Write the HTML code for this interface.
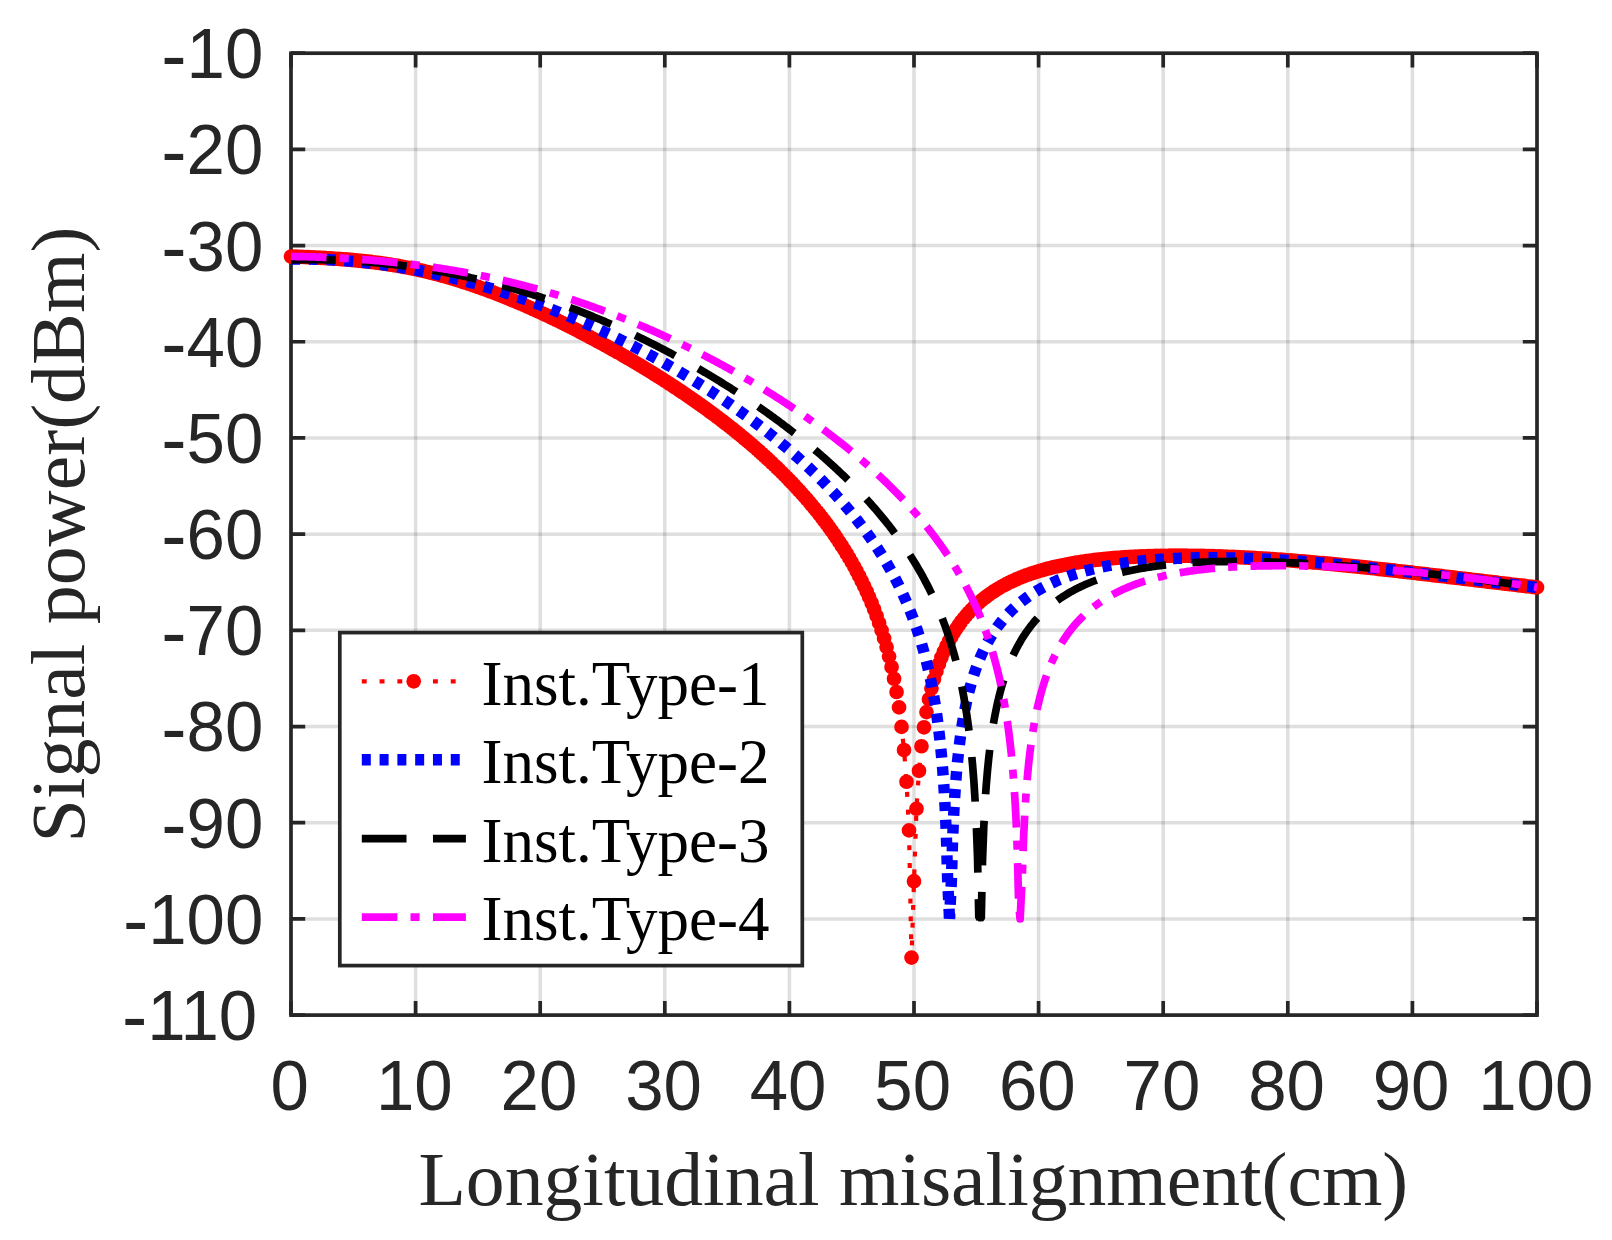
<!DOCTYPE html>
<html lang="en"><head><meta charset="utf-8"><title>Signal power vs longitudinal misalignment</title>
<style>html,body{margin:0;padding:0;background:#fff}svg{display:block}</style></head>
<body>
<svg width="1612" height="1240" viewBox="0 0 1612 1240">
<rect width="1612" height="1240" fill="#fff"/>
<path d="M415.60,53.20V1015.10M540.20,53.20V1015.10M664.80,53.20V1015.10M789.40,53.20V1015.10M914.00,53.20V1015.10M1038.60,53.20V1015.10M1163.20,53.20V1015.10M1287.80,53.20V1015.10M1412.40,53.20V1015.10" stroke="#262626" stroke-opacity="0.15" stroke-width="3.5" fill="none"/>
<path d="M291.00,149.39H1537.00M291.00,245.58H1537.00M291.00,341.77H1537.00M291.00,437.96H1537.00M291.00,534.15H1537.00M291.00,630.34H1537.00M291.00,726.53H1537.00M291.00,822.72H1537.00M291.00,918.91H1537.00" stroke="#262626" stroke-opacity="0.15" stroke-width="3.5" fill="none"/>
<path d="M291.00,1015.10v-14.2M291.00,53.20v14.2M415.60,1015.10v-14.2M415.60,53.20v14.2M540.20,1015.10v-14.2M540.20,53.20v14.2M664.80,1015.10v-14.2M664.80,53.20v14.2M789.40,1015.10v-14.2M789.40,53.20v14.2M914.00,1015.10v-14.2M914.00,53.20v14.2M1038.60,1015.10v-14.2M1038.60,53.20v14.2M1163.20,1015.10v-14.2M1163.20,53.20v14.2M1287.80,1015.10v-14.2M1287.80,53.20v14.2M1412.40,1015.10v-14.2M1412.40,53.20v14.2M1537.00,1015.10v-14.2M1537.00,53.20v14.2M291.00,53.20h14.2M1537.00,53.20h-14.2M291.00,149.39h14.2M1537.00,149.39h-14.2M291.00,245.58h14.2M1537.00,245.58h-14.2M291.00,341.77h14.2M1537.00,341.77h-14.2M291.00,437.96h14.2M1537.00,437.96h-14.2M291.00,534.15h14.2M1537.00,534.15h-14.2M291.00,630.34h14.2M1537.00,630.34h-14.2M291.00,726.53h14.2M1537.00,726.53h-14.2M291.00,822.72h14.2M1537.00,822.72h-14.2M291.00,918.91h14.2M1537.00,918.91h-14.2M291.00,1015.10h14.2M1537.00,1015.10h-14.2" stroke="#262626" stroke-width="3.7" fill="none"/>
<rect x="291.0" y="53.2" width="1246.0" height="961.9" fill="none" stroke="#262626" stroke-width="3.7"/>
<path d="M291.00,256.54 L293.49,256.62 L295.98,256.71 L298.48,256.80 L300.97,256.90 L303.46,257.00 L305.95,257.10 L308.44,257.21 L310.94,257.32 L313.43,257.44 L315.92,257.56 L318.41,257.68 L320.90,257.81 L323.40,257.95 L325.89,258.09 L328.38,258.24 L330.87,258.40 L333.36,258.56 L335.86,258.73 L338.35,258.90 L340.84,259.08 L343.33,259.28 L345.82,259.47 L348.32,259.68 L350.81,259.89 L353.30,260.12 L355.79,260.35 L358.28,260.59 L360.78,260.84 L363.27,261.10 L365.76,261.37 L368.25,261.65 L370.74,261.94 L373.24,262.25 L375.73,262.56 L378.22,262.88 L380.71,263.22 L383.20,263.56 L385.70,263.92 L388.19,264.29 L390.68,264.68 L393.17,265.07 L395.66,265.48 L398.16,265.90 L400.65,266.34 L403.14,266.79 L405.63,267.25 L408.12,267.73 L410.62,268.22 L413.11,268.73 L415.60,269.25 L418.09,269.79 L420.58,270.34 L423.08,270.91 L425.57,271.49 L428.06,272.08 L430.55,272.70 L433.04,273.32 L435.54,273.96 L438.03,274.62 L440.52,275.29 L443.01,275.97 L445.50,276.67 L448.00,277.38 L450.49,278.11 L452.98,278.84 L455.47,279.60 L457.96,280.36 L460.46,281.14 L462.95,281.93 L465.44,282.74 L467.93,283.55 L470.42,284.39 L472.92,285.23 L475.41,286.08 L477.90,286.95 L480.39,287.83 L482.88,288.73 L485.38,289.63 L487.87,290.55 L490.36,291.48 L492.85,292.42 L495.34,293.37 L497.84,294.33 L500.33,295.31 L502.82,296.29 L505.31,297.29 L507.80,298.30 L510.30,299.32 L512.79,300.35 L515.28,301.39 L517.77,302.44 L520.26,303.51 L522.76,304.58 L525.25,305.66 L527.74,306.76 L530.23,307.86 L532.72,308.98 L535.22,310.10 L537.71,311.23 L540.20,312.38 L542.69,313.53 L545.18,314.69 L547.68,315.87 L550.17,317.05 L552.66,318.24 L555.15,319.44 L557.64,320.65 L560.14,321.87 L562.63,323.10 L565.12,324.34 L567.61,325.58 L570.10,326.84 L572.60,328.10 L575.09,329.37 L577.58,330.65 L580.07,331.94 L582.56,333.24 L585.06,334.54 L587.55,335.86 L590.04,337.18 L592.53,338.51 L595.02,339.84 L597.52,341.19 L600.01,342.54 L602.50,343.91 L604.99,345.27 L607.48,346.65 L609.98,348.04 L612.47,349.43 L614.96,350.83 L617.45,352.24 L619.94,353.66 L622.44,355.09 L624.93,356.52 L627.42,357.97 L629.91,359.42 L632.40,360.88 L634.90,362.35 L637.39,363.83 L639.88,365.32 L642.37,366.82 L644.86,368.33 L647.36,369.84 L649.85,371.37 L652.34,372.91 L654.83,374.46 L657.32,376.01 L659.82,377.58 L662.31,379.16 L664.80,380.75 L667.29,382.35 L669.78,383.97 L672.28,385.59 L674.77,387.22 L677.26,388.87 L679.75,390.53 L682.24,392.20 L684.74,393.88 L687.23,395.58 L689.72,397.29 L692.21,399.01 L694.70,400.74 L697.20,402.49 L699.69,404.25 L702.18,406.03 L704.67,407.82 L707.16,409.62 L709.66,411.44 L712.15,413.28 L714.64,415.13 L717.13,417.00 L719.62,418.88 L722.12,420.78 L724.61,422.70 L727.10,424.63 L729.59,426.58 L732.08,428.55 L734.58,430.54 L737.07,432.55 L739.56,434.57 L742.05,436.62 L744.54,438.69 L747.04,440.78 L749.53,442.89 L752.02,445.02 L754.51,447.17 L757.00,449.35 L759.50,451.56 L761.99,453.78 L764.48,456.04 L766.97,458.32 L769.46,460.63 L771.96,462.96 L774.45,465.33 L776.94,467.72 L779.43,470.15 L781.92,472.61 L784.42,475.10 L786.91,477.62 L789.40,480.19 L791.89,482.78 L794.38,485.42 L796.88,488.10 L799.37,490.82 L801.86,493.58 L804.35,496.39 L806.84,499.24 L809.34,502.15 L811.83,505.10 L814.32,508.11 L816.81,511.17 L819.30,514.30 L821.80,517.48 L824.29,520.74 L826.78,524.06 L829.27,527.45 L831.76,530.92 L834.26,534.48 L836.75,538.12 L839.24,541.85 L841.73,545.68 L844.22,549.62 L846.72,553.67 L849.21,557.85 L851.70,562.15 L854.19,566.60 L856.68,571.21 L859.18,575.98 L861.67,580.94 L864.16,586.10 L866.65,591.49 L869.14,597.13 L871.64,603.06 L874.13,609.29 L876.62,615.89 L879.11,622.90 L881.60,630.38 L884.10,638.41 L886.59,647.11 L889.08,656.59 L891.57,667.05 L894.06,678.73 L896.56,691.99 L899.05,707.39 L901.54,726.91 L904.03,750.00 L906.52,781.74 L909.02,830.42 L911.51,957.58 L914.00,881.20 L916.49,808.77 L918.98,770.78 L921.48,746.25 L923.97,727.30 L926.46,712.10 L928.95,699.28 L931.44,688.61 L933.94,679.36 L936.43,671.23 L938.92,663.99 L941.41,657.47 L943.90,651.58 L946.40,646.20 L948.89,641.26 L951.38,636.72 L953.87,632.51 L956.36,628.60 L958.86,624.96 L961.35,621.55 L963.84,618.36 L966.33,615.37 L968.82,612.55 L971.32,609.89 L973.81,607.38 L976.30,605.01 L978.79,602.76 L981.28,600.63 L983.78,598.60 L986.27,596.68 L988.76,594.85 L991.25,593.10 L993.74,591.44 L996.24,589.85 L998.73,588.34 L1001.22,586.89 L1003.71,585.51 L1006.20,584.19 L1008.70,582.92 L1011.19,581.71 L1013.68,580.55 L1016.17,579.44 L1018.66,578.37 L1021.16,577.35 L1023.65,576.37 L1026.14,575.42 L1028.63,574.52 L1031.12,573.65 L1033.62,572.82 L1036.11,572.02 L1038.60,571.25 L1041.09,570.51 L1043.58,569.80 L1046.08,569.11 L1048.57,568.46 L1051.06,567.82 L1053.55,567.22 L1056.04,566.63 L1058.54,566.07 L1061.03,565.53 L1063.52,565.01 L1066.01,564.52 L1068.50,564.04 L1071.00,563.58 L1073.49,563.14 L1075.98,562.71 L1078.47,562.31 L1080.96,561.92 L1083.46,561.54 L1085.95,561.19 L1088.44,560.84 L1090.93,560.51 L1093.42,560.20 L1095.92,559.90 L1098.41,559.61 L1100.90,559.34 L1103.39,559.07 L1105.88,558.82 L1108.38,558.59 L1110.87,558.36 L1113.36,558.14 L1115.85,557.94 L1118.34,557.75 L1120.84,557.56 L1123.33,557.39 L1125.82,557.22 L1128.31,557.07 L1130.80,556.93 L1133.30,556.79 L1135.79,556.66 L1138.28,556.54 L1140.77,556.43 L1143.26,556.33 L1145.76,556.24 L1148.25,556.15 L1150.74,556.08 L1153.23,556.01 L1155.72,555.94 L1158.22,555.89 L1160.71,555.84 L1163.20,555.80 L1165.69,555.76 L1168.18,555.73 L1170.68,555.71 L1173.17,555.69 L1175.66,555.68 L1178.15,555.68 L1180.64,555.68 L1183.14,555.69 L1185.63,555.71 L1188.12,555.73 L1190.61,555.75 L1193.10,555.78 L1195.60,555.82 L1198.09,555.86 L1200.58,555.91 L1203.07,555.96 L1205.56,556.01 L1208.06,556.08 L1210.55,556.14 L1213.04,556.21 L1215.53,556.29 L1218.02,556.37 L1220.52,556.45 L1223.01,556.54 L1225.50,556.64 L1227.99,556.74 L1230.48,556.84 L1232.98,556.95 L1235.47,557.06 L1237.96,557.17 L1240.45,557.29 L1242.94,557.41 L1245.44,557.54 L1247.93,557.67 L1250.42,557.81 L1252.91,557.95 L1255.40,558.09 L1257.90,558.23 L1260.39,558.38 L1262.88,558.54 L1265.37,558.70 L1267.86,558.86 L1270.36,559.02 L1272.85,559.19 L1275.34,559.36 L1277.83,559.53 L1280.32,559.71 L1282.82,559.89 L1285.31,560.08 L1287.80,560.27 L1290.29,560.46 L1292.78,560.65 L1295.28,560.85 L1297.77,561.05 L1300.26,561.26 L1302.75,561.46 L1305.24,561.67 L1307.74,561.89 L1310.23,562.10 L1312.72,562.32 L1315.21,562.54 L1317.70,562.77 L1320.20,562.99 L1322.69,563.22 L1325.18,563.45 L1327.67,563.69 L1330.16,563.92 L1332.66,564.16 L1335.15,564.40 L1337.64,564.64 L1340.13,564.89 L1342.62,565.13 L1345.12,565.38 L1347.61,565.63 L1350.10,565.89 L1352.59,566.14 L1355.08,566.40 L1357.58,566.66 L1360.07,566.92 L1362.56,567.18 L1365.05,567.44 L1367.54,567.71 L1370.04,567.97 L1372.53,568.24 L1375.02,568.51 L1377.51,568.78 L1380.00,569.06 L1382.50,569.33 L1384.99,569.61 L1387.48,569.88 L1389.97,570.16 L1392.46,570.44 L1394.96,570.72 L1397.45,571.00 L1399.94,571.28 L1402.43,571.56 L1404.92,571.85 L1407.42,572.13 L1409.91,572.42 L1412.40,572.71 L1414.89,572.99 L1417.38,573.28 L1419.88,573.57 L1422.37,573.86 L1424.86,574.15 L1427.35,574.44 L1429.84,574.74 L1432.34,575.03 L1434.83,575.32 L1437.32,575.61 L1439.81,575.91 L1442.30,576.20 L1444.80,576.50 L1447.29,576.79 L1449.78,577.09 L1452.27,577.38 L1454.76,577.68 L1457.26,577.98 L1459.75,578.27 L1462.24,578.57 L1464.73,578.87 L1467.22,579.16 L1469.72,579.46 L1472.21,579.76 L1474.70,580.05 L1477.19,580.35 L1479.68,580.65 L1482.18,580.94 L1484.67,581.24 L1487.16,581.53 L1489.65,581.83 L1492.14,582.13 L1494.64,582.42 L1497.13,582.72 L1499.62,583.01 L1502.11,583.31 L1504.60,583.60 L1507.10,583.89 L1509.59,584.19 L1512.08,584.48 L1514.57,584.77 L1517.06,585.06 L1519.56,585.36 L1522.05,585.65 L1524.54,585.94 L1527.03,586.23 L1529.52,586.51 L1532.02,586.80 L1534.51,587.09 L1537.00,587.38" stroke="#ff0000" stroke-width="4.2" fill="none" stroke-dasharray="4.9 12.89" stroke-dashoffset="5.9" stroke-linejoin="round"/>
<path d="M291.00,256.54h0M293.49,256.62h0M295.98,256.71h0M298.48,256.80h0M300.97,256.90h0M303.46,257.00h0M305.95,257.10h0M308.44,257.21h0M310.94,257.32h0M313.43,257.44h0M315.92,257.56h0M318.41,257.68h0M320.90,257.81h0M323.40,257.95h0M325.89,258.09h0M328.38,258.24h0M330.87,258.40h0M333.36,258.56h0M335.86,258.73h0M338.35,258.90h0M340.84,259.08h0M343.33,259.28h0M345.82,259.47h0M348.32,259.68h0M350.81,259.89h0M353.30,260.12h0M355.79,260.35h0M358.28,260.59h0M360.78,260.84h0M363.27,261.10h0M365.76,261.37h0M368.25,261.65h0M370.74,261.94h0M373.24,262.25h0M375.73,262.56h0M378.22,262.88h0M380.71,263.22h0M383.20,263.56h0M385.70,263.92h0M388.19,264.29h0M390.68,264.68h0M393.17,265.07h0M395.66,265.48h0M398.16,265.90h0M400.65,266.34h0M403.14,266.79h0M405.63,267.25h0M408.12,267.73h0M410.62,268.22h0M413.11,268.73h0M415.60,269.25h0M418.09,269.79h0M420.58,270.34h0M423.08,270.91h0M425.57,271.49h0M428.06,272.08h0M430.55,272.70h0M433.04,273.32h0M435.54,273.96h0M438.03,274.62h0M440.52,275.29h0M443.01,275.97h0M445.50,276.67h0M448.00,277.38h0M450.49,278.11h0M452.98,278.84h0M455.47,279.60h0M457.96,280.36h0M460.46,281.14h0M462.95,281.93h0M465.44,282.74h0M467.93,283.55h0M470.42,284.39h0M472.92,285.23h0M475.41,286.08h0M477.90,286.95h0M480.39,287.83h0M482.88,288.73h0M485.38,289.63h0M487.87,290.55h0M490.36,291.48h0M492.85,292.42h0M495.34,293.37h0M497.84,294.33h0M500.33,295.31h0M502.82,296.29h0M505.31,297.29h0M507.80,298.30h0M510.30,299.32h0M512.79,300.35h0M515.28,301.39h0M517.77,302.44h0M520.26,303.51h0M522.76,304.58h0M525.25,305.66h0M527.74,306.76h0M530.23,307.86h0M532.72,308.98h0M535.22,310.10h0M537.71,311.23h0M540.20,312.38h0M542.69,313.53h0M545.18,314.69h0M547.68,315.87h0M550.17,317.05h0M552.66,318.24h0M555.15,319.44h0M557.64,320.65h0M560.14,321.87h0M562.63,323.10h0M565.12,324.34h0M567.61,325.58h0M570.10,326.84h0M572.60,328.10h0M575.09,329.37h0M577.58,330.65h0M580.07,331.94h0M582.56,333.24h0M585.06,334.54h0M587.55,335.86h0M590.04,337.18h0M592.53,338.51h0M595.02,339.84h0M597.52,341.19h0M600.01,342.54h0M602.50,343.91h0M604.99,345.27h0M607.48,346.65h0M609.98,348.04h0M612.47,349.43h0M614.96,350.83h0M617.45,352.24h0M619.94,353.66h0M622.44,355.09h0M624.93,356.52h0M627.42,357.97h0M629.91,359.42h0M632.40,360.88h0M634.90,362.35h0M637.39,363.83h0M639.88,365.32h0M642.37,366.82h0M644.86,368.33h0M647.36,369.84h0M649.85,371.37h0M652.34,372.91h0M654.83,374.46h0M657.32,376.01h0M659.82,377.58h0M662.31,379.16h0M664.80,380.75h0M667.29,382.35h0M669.78,383.97h0M672.28,385.59h0M674.77,387.22h0M677.26,388.87h0M679.75,390.53h0M682.24,392.20h0M684.74,393.88h0M687.23,395.58h0M689.72,397.29h0M692.21,399.01h0M694.70,400.74h0M697.20,402.49h0M699.69,404.25h0M702.18,406.03h0M704.67,407.82h0M707.16,409.62h0M709.66,411.44h0M712.15,413.28h0M714.64,415.13h0M717.13,417.00h0M719.62,418.88h0M722.12,420.78h0M724.61,422.70h0M727.10,424.63h0M729.59,426.58h0M732.08,428.55h0M734.58,430.54h0M737.07,432.55h0M739.56,434.57h0M742.05,436.62h0M744.54,438.69h0M747.04,440.78h0M749.53,442.89h0M752.02,445.02h0M754.51,447.17h0M757.00,449.35h0M759.50,451.56h0M761.99,453.78h0M764.48,456.04h0M766.97,458.32h0M769.46,460.63h0M771.96,462.96h0M774.45,465.33h0M776.94,467.72h0M779.43,470.15h0M781.92,472.61h0M784.42,475.10h0M786.91,477.62h0M789.40,480.19h0M791.89,482.78h0M794.38,485.42h0M796.88,488.10h0M799.37,490.82h0M801.86,493.58h0M804.35,496.39h0M806.84,499.24h0M809.34,502.15h0M811.83,505.10h0M814.32,508.11h0M816.81,511.17h0M819.30,514.30h0M821.80,517.48h0M824.29,520.74h0M826.78,524.06h0M829.27,527.45h0M831.76,530.92h0M834.26,534.48h0M836.75,538.12h0M839.24,541.85h0M841.73,545.68h0M844.22,549.62h0M846.72,553.67h0M849.21,557.85h0M851.70,562.15h0M854.19,566.60h0M856.68,571.21h0M859.18,575.98h0M861.67,580.94h0M864.16,586.10h0M866.65,591.49h0M869.14,597.13h0M871.64,603.06h0M874.13,609.29h0M876.62,615.89h0M879.11,622.90h0M881.60,630.38h0M884.10,638.41h0M886.59,647.11h0M889.08,656.59h0M891.57,667.05h0M894.06,678.73h0M896.56,691.99h0M899.05,707.39h0M901.54,726.91h0M904.03,750.00h0M906.52,781.74h0M909.02,830.42h0M911.51,957.58h0M914.00,881.20h0M916.49,808.77h0M918.98,770.78h0M921.48,746.25h0M923.97,727.30h0M926.46,712.10h0M928.95,699.28h0M931.44,688.61h0M933.94,679.36h0M936.43,671.23h0M938.92,663.99h0M941.41,657.47h0M943.90,651.58h0M946.40,646.20h0M948.89,641.26h0M951.38,636.72h0M953.87,632.51h0M956.36,628.60h0M958.86,624.96h0M961.35,621.55h0M963.84,618.36h0M966.33,615.37h0M968.82,612.55h0M971.32,609.89h0M973.81,607.38h0M976.30,605.01h0M978.79,602.76h0M981.28,600.63h0M983.78,598.60h0M986.27,596.68h0M988.76,594.85h0M991.25,593.10h0M993.74,591.44h0M996.24,589.85h0M998.73,588.34h0M1001.22,586.89h0M1003.71,585.51h0M1006.20,584.19h0M1008.70,582.92h0M1011.19,581.71h0M1013.68,580.55h0M1016.17,579.44h0M1018.66,578.37h0M1021.16,577.35h0M1023.65,576.37h0M1026.14,575.42h0M1028.63,574.52h0M1031.12,573.65h0M1033.62,572.82h0M1036.11,572.02h0M1038.60,571.25h0M1041.09,570.51h0M1043.58,569.80h0M1046.08,569.11h0M1048.57,568.46h0M1051.06,567.82h0M1053.55,567.22h0M1056.04,566.63h0M1058.54,566.07h0M1061.03,565.53h0M1063.52,565.01h0M1066.01,564.52h0M1068.50,564.04h0M1071.00,563.58h0M1073.49,563.14h0M1075.98,562.71h0M1078.47,562.31h0M1080.96,561.92h0M1083.46,561.54h0M1085.95,561.19h0M1088.44,560.84h0M1090.93,560.51h0M1093.42,560.20h0M1095.92,559.90h0M1098.41,559.61h0M1100.90,559.34h0M1103.39,559.07h0M1105.88,558.82h0M1108.38,558.59h0M1110.87,558.36h0M1113.36,558.14h0M1115.85,557.94h0M1118.34,557.75h0M1120.84,557.56h0M1123.33,557.39h0M1125.82,557.22h0M1128.31,557.07h0M1130.80,556.93h0M1133.30,556.79h0M1135.79,556.66h0M1138.28,556.54h0M1140.77,556.43h0M1143.26,556.33h0M1145.76,556.24h0M1148.25,556.15h0M1150.74,556.08h0M1153.23,556.01h0M1155.72,555.94h0M1158.22,555.89h0M1160.71,555.84h0M1163.20,555.80h0M1165.69,555.76h0M1168.18,555.73h0M1170.68,555.71h0M1173.17,555.69h0M1175.66,555.68h0M1178.15,555.68h0M1180.64,555.68h0M1183.14,555.69h0M1185.63,555.71h0M1188.12,555.73h0M1190.61,555.75h0M1193.10,555.78h0M1195.60,555.82h0M1198.09,555.86h0M1200.58,555.91h0M1203.07,555.96h0M1205.56,556.01h0M1208.06,556.08h0M1210.55,556.14h0M1213.04,556.21h0M1215.53,556.29h0M1218.02,556.37h0M1220.52,556.45h0M1223.01,556.54h0M1225.50,556.64h0M1227.99,556.74h0M1230.48,556.84h0M1232.98,556.95h0M1235.47,557.06h0M1237.96,557.17h0M1240.45,557.29h0M1242.94,557.41h0M1245.44,557.54h0M1247.93,557.67h0M1250.42,557.81h0M1252.91,557.95h0M1255.40,558.09h0M1257.90,558.23h0M1260.39,558.38h0M1262.88,558.54h0M1265.37,558.70h0M1267.86,558.86h0M1270.36,559.02h0M1272.85,559.19h0M1275.34,559.36h0M1277.83,559.53h0M1280.32,559.71h0M1282.82,559.89h0M1285.31,560.08h0M1287.80,560.27h0M1290.29,560.46h0M1292.78,560.65h0M1295.28,560.85h0M1297.77,561.05h0M1300.26,561.26h0M1302.75,561.46h0M1305.24,561.67h0M1307.74,561.89h0M1310.23,562.10h0M1312.72,562.32h0M1315.21,562.54h0M1317.70,562.77h0M1320.20,562.99h0M1322.69,563.22h0M1325.18,563.45h0M1327.67,563.69h0M1330.16,563.92h0M1332.66,564.16h0M1335.15,564.40h0M1337.64,564.64h0M1340.13,564.89h0M1342.62,565.13h0M1345.12,565.38h0M1347.61,565.63h0M1350.10,565.89h0M1352.59,566.14h0M1355.08,566.40h0M1357.58,566.66h0M1360.07,566.92h0M1362.56,567.18h0M1365.05,567.44h0M1367.54,567.71h0M1370.04,567.97h0M1372.53,568.24h0M1375.02,568.51h0M1377.51,568.78h0M1380.00,569.06h0M1382.50,569.33h0M1384.99,569.61h0M1387.48,569.88h0M1389.97,570.16h0M1392.46,570.44h0M1394.96,570.72h0M1397.45,571.00h0M1399.94,571.28h0M1402.43,571.56h0M1404.92,571.85h0M1407.42,572.13h0M1409.91,572.42h0M1412.40,572.71h0M1414.89,572.99h0M1417.38,573.28h0M1419.88,573.57h0M1422.37,573.86h0M1424.86,574.15h0M1427.35,574.44h0M1429.84,574.74h0M1432.34,575.03h0M1434.83,575.32h0M1437.32,575.61h0M1439.81,575.91h0M1442.30,576.20h0M1444.80,576.50h0M1447.29,576.79h0M1449.78,577.09h0M1452.27,577.38h0M1454.76,577.68h0M1457.26,577.98h0M1459.75,578.27h0M1462.24,578.57h0M1464.73,578.87h0M1467.22,579.16h0M1469.72,579.46h0M1472.21,579.76h0M1474.70,580.05h0M1477.19,580.35h0M1479.68,580.65h0M1482.18,580.94h0M1484.67,581.24h0M1487.16,581.53h0M1489.65,581.83h0M1492.14,582.13h0M1494.64,582.42h0M1497.13,582.72h0M1499.62,583.01h0M1502.11,583.31h0M1504.60,583.60h0M1507.10,583.89h0M1509.59,584.19h0M1512.08,584.48h0M1514.57,584.77h0M1517.06,585.06h0M1519.56,585.36h0M1522.05,585.65h0M1524.54,585.94h0M1527.03,586.23h0M1529.52,586.51h0M1532.02,586.80h0M1534.51,587.09h0M1537.00,587.38h0" stroke="#ff0000" stroke-width="14.7" stroke-linecap="round" fill="none"/>
<path d="M291.00,259.10 L292.25,259.08 L293.49,259.07 L294.74,259.05 L295.98,259.04 L297.23,259.04 L298.48,259.03 L299.72,259.03 L300.97,259.03 L302.21,259.03 L303.46,259.04 L304.71,259.05 L305.95,259.06 L307.20,259.07 L308.44,259.09 L309.69,259.10 L310.94,259.13 L312.18,259.15 L313.43,259.18 L314.67,259.20 L315.92,259.24 L317.17,259.27 L318.41,259.31 L319.66,259.35 L320.90,259.39 L322.15,259.43 L323.40,259.48 L324.64,259.53 L325.89,259.58 L327.13,259.64 L328.38,259.70 L329.63,259.76 L330.87,259.82 L332.12,259.89 L333.36,259.95 L334.61,260.03 L335.86,260.10 L337.10,260.17 L338.35,260.25 L339.59,260.33 L340.84,260.42 L342.09,260.50 L343.33,260.59 L344.58,260.68 L345.82,260.78 L347.07,260.87 L348.32,260.97 L349.56,261.07 L350.81,261.18 L352.05,261.28 L353.30,261.39 L354.55,261.50 L355.79,261.62 L357.04,261.73 L358.28,261.85 L359.53,261.97 L360.78,262.10 L362.02,262.22 L363.27,262.35 L364.51,262.48 L365.76,262.62 L367.01,262.76 L368.25,262.89 L369.50,263.04 L370.74,263.18 L371.99,263.33 L373.24,263.47 L374.48,263.63 L375.73,263.78 L376.97,263.94 L378.22,264.10 L379.47,264.26 L380.71,264.42 L381.96,264.59 L383.20,264.75 L384.45,264.93 L385.70,265.10 L386.94,265.28 L388.19,265.45 L389.43,265.63 L390.68,265.82 L391.93,266.00 L393.17,266.19 L394.42,266.38 L395.66,266.58 L396.91,266.77 L398.16,266.97 L399.40,267.17 L400.65,267.37 L401.89,267.58 L403.14,267.78 L404.39,267.99 L405.63,268.21 L406.88,268.42 L408.12,268.64 L409.37,268.86 L410.62,269.08 L411.86,269.31 L413.11,269.53 L414.35,269.76 L415.60,269.99 L416.85,270.23 L418.09,270.46 L419.34,270.70 L420.58,270.94 L421.83,271.19 L423.08,271.43 L424.32,271.68 L425.57,271.93 L426.81,272.19 L428.06,272.44 L429.31,272.70 L430.55,272.96 L431.80,273.22 L433.04,273.49 L434.29,273.75 L435.54,274.02 L436.78,274.30 L438.03,274.57 L439.27,274.85 L440.52,275.13 L441.77,275.41 L443.01,275.69 L444.26,275.98 L445.50,276.27 L446.75,276.56 L448.00,276.85 L449.24,277.15 L450.49,277.44 L451.73,277.74 L452.98,278.05 L454.23,278.35 L455.47,278.66 L456.72,278.97 L457.96,279.28 L459.21,279.60 L460.46,279.91 L461.70,280.23 L462.95,280.55 L464.19,280.88 L465.44,281.20 L466.69,281.53 L467.93,281.86 L469.18,282.19 L470.42,282.53 L471.67,282.87 L472.92,283.21 L474.16,283.55 L475.41,283.89 L476.65,284.24 L477.90,284.59 L479.15,284.94 L480.39,285.29 L481.64,285.65 L482.88,286.01 L484.13,286.37 L485.38,286.73 L486.62,287.10 L487.87,287.47 L489.11,287.84 L490.36,288.21 L491.61,288.58 L492.85,288.96 L494.10,289.34 L495.34,289.72 L496.59,290.10 L497.84,290.49 L499.08,290.88 L500.33,291.27 L501.57,291.66 L502.82,292.06 L504.07,292.45 L505.31,292.85 L506.56,293.26 L507.80,293.66 L509.05,294.07 L510.30,294.48 L511.54,294.89 L512.79,295.30 L514.03,295.72 L515.28,296.14 L516.53,296.56 L517.77,296.98 L519.02,297.40 L520.26,297.83 L521.51,298.26 L522.76,298.69 L524.00,299.13 L525.25,299.56 L526.49,300.00 L527.74,300.44 L528.99,300.89 L530.23,301.33 L531.48,301.78 L532.72,302.23 L533.97,302.68 L535.22,303.14 L536.46,303.60 L537.71,304.06 L538.95,304.52 L540.20,304.98 L541.45,305.45 L542.69,305.92 L543.94,306.39 L545.18,306.86 L546.43,307.34 L547.68,307.82 L548.92,308.30 L550.17,308.78 L551.41,309.26 L552.66,309.75 L553.91,310.24 L555.15,310.73 L556.40,311.23 L557.64,311.72 L558.89,312.22 L560.14,312.72 L561.38,313.23 L562.63,313.73 L563.87,314.24 L565.12,314.75 L566.37,315.26 L567.61,315.78 L568.86,316.29 L570.10,316.81 L571.35,317.34 L572.60,317.86 L573.84,318.39 L575.09,318.91 L576.33,319.45 L577.58,319.98 L578.83,320.52 L580.07,321.05 L581.32,321.59 L582.56,322.14 L583.81,322.68 L585.06,323.23 L586.30,323.78 L587.55,324.33 L588.79,324.89 L590.04,325.44 L591.29,326.00 L592.53,326.56 L593.78,327.13 L595.02,327.69 L596.27,328.26 L597.52,328.83 L598.76,329.41 L600.01,329.98 L601.25,330.56 L602.50,331.14 L603.75,331.72 L604.99,332.31 L606.24,332.90 L607.48,333.49 L608.73,334.08 L609.98,334.67 L611.22,335.27 L612.47,335.87 L613.71,336.47 L614.96,337.08 L616.21,337.68 L617.45,338.29 L618.70,338.90 L619.94,339.52 L621.19,340.13 L622.44,340.75 L623.68,341.37 L624.93,342.00 L626.17,342.62 L627.42,343.25 L628.67,343.88 L629.91,344.52 L631.16,345.15 L632.40,345.79 L633.65,346.43 L634.90,347.08 L636.14,347.72 L637.39,348.37 L638.63,349.02 L639.88,349.68 L641.13,350.33 L642.37,350.99 L643.62,351.65 L644.86,352.32 L646.11,352.98 L647.36,353.65 L648.60,354.32 L649.85,355.00 L651.09,355.67 L652.34,356.35 L653.59,357.03 L654.83,357.72 L656.08,358.41 L657.32,359.10 L658.57,359.79 L659.82,360.48 L661.06,361.18 L662.31,361.88 L663.55,362.58 L664.80,363.29 L666.05,364.00 L667.29,364.71 L668.54,365.42 L669.78,366.14 L671.03,366.86 L672.28,367.58 L673.52,368.30 L674.77,369.03 L676.01,369.76 L677.26,370.49 L678.51,371.23 L679.75,371.97 L681.00,372.71 L682.24,373.45 L683.49,374.20 L684.74,374.95 L685.98,375.70 L687.23,376.45 L688.47,377.21 L689.72,377.97 L690.97,378.74 L692.21,379.50 L693.46,380.27 L694.70,381.05 L695.95,381.82 L697.20,382.60 L698.44,383.38 L699.69,384.17 L700.93,384.96 L702.18,385.75 L703.43,386.54 L704.67,387.34 L705.92,388.14 L707.16,388.94 L708.41,389.75 L709.66,390.56 L710.90,391.37 L712.15,392.19 L713.39,393.01 L714.64,393.83 L715.89,394.65 L717.13,395.48 L718.38,396.31 L719.62,397.15 L720.87,397.99 L722.12,398.83 L723.36,399.68 L724.61,400.53 L725.85,401.38 L727.10,402.23 L728.35,403.09 L729.59,403.96 L730.84,404.82 L732.08,405.69 L733.33,406.57 L734.58,407.44 L735.82,408.32 L737.07,409.21 L738.31,410.10 L739.56,410.99 L740.81,411.88 L742.05,412.78 L743.30,413.69 L744.54,414.59 L745.79,415.51 L747.04,416.42 L748.28,417.34 L749.53,418.26 L750.77,419.19 L752.02,420.12 L753.27,421.05 L754.51,421.99 L755.76,422.94 L757.00,423.89 L758.25,424.84 L759.50,425.79 L760.74,426.75 L761.99,427.72 L763.23,428.69 L764.48,429.66 L765.73,430.64 L766.97,431.62 L768.22,432.61 L769.46,433.60 L770.71,434.60 L771.96,435.60 L773.20,436.61 L774.45,437.62 L775.69,438.63 L776.94,439.66 L778.19,440.68 L779.43,441.71 L780.68,442.75 L781.92,443.79 L783.17,444.84 L784.42,445.89 L785.66,446.95 L786.91,448.01 L788.15,449.08 L789.40,450.16 L790.65,451.24 L791.89,452.32 L793.14,453.41 L794.38,454.51 L795.63,455.61 L796.88,456.72 L798.12,457.84 L799.37,458.96 L800.61,460.09 L801.86,461.23 L803.11,462.37 L804.35,463.52 L805.60,464.67 L806.84,465.83 L808.09,467.00 L809.34,468.18 L810.58,469.36 L811.83,470.55 L813.07,471.75 L814.32,472.95 L815.57,474.17 L816.81,475.39 L818.06,476.61 L819.30,477.85 L820.55,479.10 L821.80,480.35 L823.04,481.61 L824.29,482.88 L825.53,484.16 L826.78,485.45 L828.03,486.74 L829.27,488.05 L830.52,489.36 L831.76,490.69 L833.01,492.02 L834.26,493.37 L835.50,494.72 L836.75,496.09 L837.99,497.46 L839.24,498.85 L840.49,500.25 L841.73,501.66 L842.98,503.08 L844.22,504.51 L845.47,505.96 L846.72,507.41 L847.96,508.88 L849.21,510.37 L850.45,511.86 L851.70,513.37 L852.95,514.90 L854.19,516.43 L855.44,517.99 L856.68,519.55 L857.93,521.14 L859.18,522.73 L860.42,524.35 L861.67,525.98 L862.91,527.63 L864.16,529.30 L865.41,530.98 L866.65,532.68 L867.90,534.41 L869.14,536.15 L870.39,537.91 L871.64,539.69 L872.88,541.50 L874.13,543.33 L875.37,545.18 L876.62,547.05 L877.87,548.95 L879.11,550.87 L880.36,552.82 L881.60,554.80 L882.85,556.81 L884.10,558.84 L885.34,560.91 L886.59,563.01 L887.83,565.14 L889.08,567.31 L890.33,569.51 L891.57,571.75 L892.82,574.02 L894.06,576.34 L895.31,578.70 L896.56,581.11 L897.80,583.56 L899.05,586.06 L900.29,588.61 L901.54,591.21 L902.79,593.87 L904.03,596.59 L905.28,599.38 L906.52,602.23 L907.77,605.15 L909.02,608.14 L910.26,611.22 L911.51,614.37 L912.75,617.62 L914.00,620.97 L915.25,624.42 L916.49,627.97 L917.74,631.65 L918.98,635.46 L920.23,639.40 L921.48,643.50 L922.72,647.76 L923.97,652.20 L925.21,656.85 L926.46,661.71 L927.71,666.81 L928.95,672.19 L930.20,677.88 L931.44,683.92 L932.69,690.35 L933.94,697.25 L935.18,704.68 L936.43,712.74 L937.67,721.57 L938.92,731.32 L940.17,742.24 L941.41,754.66 L942.66,769.08 L943.90,786.31 L945.15,807.77 L946.40,836.35 L947.64,879.49 L949.51,918.91" stroke="#0000ff" stroke-width="11.4" fill="none" stroke-dasharray="9.0 8.79" stroke-linejoin="round"/>
<path d="M949.51,918.91 L951.38,880.88 L952.63,838.67 L953.87,811.02 L955.12,790.48 L956.36,774.18 L957.61,760.69 L958.86,749.19 L960.10,739.20 L961.35,730.37 L962.59,722.47 L963.84,715.33 L965.09,708.82 L966.33,702.86 L967.58,697.35 L968.82,692.24 L970.07,687.47 L971.32,683.02 L972.56,678.84 L973.81,674.90 L975.05,671.18 L976.30,667.66 L977.55,664.33 L978.79,661.15 L980.04,658.13 L981.28,655.25 L982.53,652.49 L983.78,649.86 L985.02,647.33 L986.27,644.91 L987.51,642.58 L988.76,640.35 L990.01,638.19 L991.25,636.12 L992.50,634.12 L993.74,632.19 L994.99,630.32 L996.24,628.52 L997.48,626.78 L998.73,625.09 L999.97,623.46 L1001.22,621.88 L1002.47,620.34 L1003.71,618.86 L1004.96,617.41 L1006.20,616.01 L1007.45,614.65 L1008.70,613.32 L1009.94,612.03 L1011.19,610.78 L1012.43,609.56 L1013.68,608.38 L1014.93,607.22 L1016.17,606.10 L1017.42,605.00 L1018.66,603.93 L1019.91,602.89 L1021.16,601.87 L1022.40,600.88 L1023.65,599.92 L1024.89,598.97 L1026.14,598.05 L1027.39,597.15 L1028.63,596.27 L1029.88,595.41 L1031.12,594.57 L1032.37,593.75 L1033.62,592.95 L1034.86,592.17 L1036.11,591.40 L1037.35,590.65 L1038.60,589.92 L1039.85,589.20 L1041.09,588.50 L1042.34,587.82 L1043.58,587.14 L1044.83,586.49 L1046.08,585.84 L1047.32,585.21 L1048.57,584.59 L1049.81,583.99 L1051.06,583.40 L1052.31,582.82 L1053.55,582.25 L1054.80,581.69 L1056.04,581.14 L1057.29,580.61 L1058.54,580.09 L1059.78,579.57 L1061.03,579.07 L1062.27,578.58 L1063.52,578.09 L1064.77,577.62 L1066.01,577.15 L1067.26,576.70 L1068.50,576.25 L1069.75,575.81 L1071.00,575.38 L1072.24,574.96 L1073.49,574.55 L1074.73,574.15 L1075.98,573.75 L1077.23,573.36 L1078.47,572.98 L1079.72,572.60 L1080.96,572.24 L1082.21,571.88 L1083.46,571.53 L1084.70,571.18 L1085.95,570.84 L1087.19,570.51 L1088.44,570.18 L1089.69,569.86 L1090.93,569.55 L1092.18,569.24 L1093.42,568.94 L1094.67,568.64 L1095.92,568.35 L1097.16,568.07 L1098.41,567.79 L1099.65,567.51 L1100.90,567.25 L1102.15,566.98 L1103.39,566.73 L1104.64,566.47 L1105.88,566.23 L1107.13,565.98 L1108.38,565.75 L1109.62,565.51 L1110.87,565.29 L1112.11,565.06 L1113.36,564.84 L1114.61,564.63 L1115.85,564.42 L1117.10,564.21 L1118.34,564.01 L1119.59,563.82 L1120.84,563.62 L1122.08,563.43 L1123.33,563.25 L1124.57,563.07 L1125.82,562.89 L1127.07,562.72 L1128.31,562.55 L1129.56,562.38 L1130.80,562.22 L1132.05,562.06 L1133.30,561.91 L1134.54,561.76 L1135.79,561.61 L1137.03,561.46 L1138.28,561.32 L1139.53,561.18 L1140.77,561.05 L1142.02,560.92 L1143.26,560.79 L1144.51,560.67 L1145.76,560.54 L1147.00,560.43 L1148.25,560.31 L1149.49,560.20 L1150.74,560.09 L1151.99,559.98 L1153.23,559.88 L1154.48,559.78 L1155.72,559.68 L1156.97,559.58 L1158.22,559.49 L1159.46,559.40 L1160.71,559.31 L1161.95,559.23 L1163.20,559.14 L1164.45,559.07 L1165.69,558.99 L1166.94,558.91 L1168.18,558.84 L1169.43,558.77 L1170.68,558.70 L1171.92,558.64 L1173.17,558.58 L1174.41,558.52 L1175.66,558.46 L1176.91,558.40 L1178.15,558.35 L1179.40,558.30 L1180.64,558.25 L1181.89,558.20 L1183.14,558.16 L1184.38,558.12 L1185.63,558.08 L1186.87,558.04 L1188.12,558.00 L1189.37,557.97 L1190.61,557.94 L1191.86,557.91 L1193.10,557.88 L1194.35,557.85 L1195.60,557.83 L1196.84,557.81 L1198.09,557.79 L1199.33,557.77 L1200.58,557.75 L1201.83,557.74 L1203.07,557.73 L1204.32,557.72 L1205.56,557.71 L1206.81,557.70 L1208.06,557.69 L1209.30,557.69 L1210.55,557.69 L1211.79,557.69 L1213.04,557.69 L1214.29,557.69 L1215.53,557.70 L1216.78,557.70 L1218.02,557.71 L1219.27,557.72 L1220.52,557.73 L1221.76,557.74 L1223.01,557.76 L1224.25,557.77 L1225.50,557.79 L1226.75,557.81 L1227.99,557.83 L1229.24,557.85 L1230.48,557.88 L1231.73,557.90 L1232.98,557.93 L1234.22,557.96 L1235.47,557.99 L1236.71,558.02 L1237.96,558.05 L1239.21,558.08 L1240.45,558.12 L1241.70,558.16 L1242.94,558.19 L1244.19,558.23 L1245.44,558.27 L1246.68,558.31 L1247.93,558.36 L1249.17,558.40 L1250.42,558.45 L1251.67,558.50 L1252.91,558.54 L1254.16,558.59 L1255.40,558.65 L1256.65,558.70 L1257.90,558.75 L1259.14,558.81 L1260.39,558.86 L1261.63,558.92 L1262.88,558.98 L1264.13,559.04 L1265.37,559.10 L1266.62,559.16 L1267.86,559.23 L1269.11,559.29 L1270.36,559.36 L1271.60,559.42 L1272.85,559.49 L1274.09,559.56 L1275.34,559.63 L1276.59,559.70 L1277.83,559.78 L1279.08,559.85 L1280.32,559.92 L1281.57,560.00 L1282.82,560.08 L1284.06,560.16 L1285.31,560.24 L1286.55,560.32 L1287.80,560.40 L1289.05,560.48 L1290.29,560.56 L1291.54,560.65 L1292.78,560.73 L1294.03,560.82 L1295.28,560.91 L1296.52,561.00 L1297.77,561.09 L1299.01,561.18 L1300.26,561.27 L1301.51,561.36 L1302.75,561.46 L1304.00,561.55 L1305.24,561.65 L1306.49,561.74 L1307.74,561.84 L1308.98,561.94 L1310.23,562.04 L1311.47,562.14 L1312.72,562.24 L1313.97,562.34 L1315.21,562.44 L1316.46,562.55 L1317.70,562.65 L1318.95,562.76 L1320.20,562.86 L1321.44,562.97 L1322.69,563.08 L1323.93,563.19 L1325.18,563.30 L1326.43,563.41 L1327.67,563.52 L1328.92,563.63 L1330.16,563.74 L1331.41,563.85 L1332.66,563.97 L1333.90,564.08 L1335.15,564.20 L1336.39,564.31 L1337.64,564.43 L1338.89,564.55 L1340.13,564.67 L1341.38,564.78 L1342.62,564.90 L1343.87,565.02 L1345.12,565.14 L1346.36,565.27 L1347.61,565.39 L1348.85,565.51 L1350.10,565.63 L1351.35,565.76 L1352.59,565.88 L1353.84,566.01 L1355.08,566.13 L1356.33,566.26 L1357.58,566.39 L1358.82,566.51 L1360.07,566.64 L1361.31,566.77 L1362.56,566.90 L1363.81,567.03 L1365.05,567.16 L1366.30,567.29 L1367.54,567.42 L1368.79,567.55 L1370.04,567.68 L1371.28,567.82 L1372.53,567.95 L1373.77,568.08 L1375.02,568.22 L1376.27,568.35 L1377.51,568.49 L1378.76,568.62 L1380.00,568.76 L1381.25,568.89 L1382.50,569.03 L1383.74,569.17 L1384.99,569.30 L1386.23,569.44 L1387.48,569.58 L1388.73,569.72 L1389.97,569.86 L1391.22,570.00 L1392.46,570.14 L1393.71,570.28 L1394.96,570.42 L1396.20,570.56 L1397.45,570.70 L1398.69,570.84 L1399.94,570.99 L1401.19,571.13 L1402.43,571.27 L1403.68,571.41 L1404.92,571.56 L1406.17,571.70 L1407.42,571.84 L1408.66,571.99 L1409.91,572.13 L1411.15,572.28 L1412.40,572.42 L1413.65,572.57 L1414.89,572.71 L1416.14,572.86 L1417.38,573.01 L1418.63,573.15 L1419.88,573.30 L1421.12,573.45 L1422.37,573.59 L1423.61,573.74 L1424.86,573.89 L1426.11,574.04 L1427.35,574.18 L1428.60,574.33 L1429.84,574.48 L1431.09,574.63 L1432.34,574.78 L1433.58,574.93 L1434.83,575.08 L1436.07,575.23 L1437.32,575.38 L1438.57,575.53 L1439.81,575.68 L1441.06,575.83 L1442.30,575.98 L1443.55,576.13 L1444.80,576.28 L1446.04,576.43 L1447.29,576.58 L1448.53,576.73 L1449.78,576.88 L1451.03,577.03 L1452.27,577.18 L1453.52,577.33 L1454.76,577.48 L1456.01,577.63 L1457.26,577.79 L1458.50,577.94 L1459.75,578.09 L1460.99,578.24 L1462.24,578.39 L1463.49,578.54 L1464.73,578.70 L1465.98,578.85 L1467.22,579.00 L1468.47,579.15 L1469.72,579.30 L1470.96,579.45 L1472.21,579.61 L1473.45,579.76 L1474.70,579.91 L1475.95,580.06 L1477.19,580.21 L1478.44,580.37 L1479.68,580.52 L1480.93,580.67 L1482.18,580.82 L1483.42,580.97 L1484.67,581.13 L1485.91,581.28 L1487.16,581.43 L1488.41,581.58 L1489.65,581.73 L1490.90,581.88 L1492.14,582.04 L1493.39,582.19 L1494.64,582.34 L1495.88,582.49 L1497.13,582.64 L1498.37,582.79 L1499.62,582.94 L1500.87,583.09 L1502.11,583.25 L1503.36,583.40 L1504.60,583.55 L1505.85,583.70 L1507.10,583.85 L1508.34,584.00 L1509.59,584.15 L1510.83,584.30 L1512.08,584.45 L1513.33,584.60 L1514.57,584.75 L1515.82,584.90 L1517.06,585.05 L1518.31,585.20 L1519.56,585.35 L1520.80,585.49 L1522.05,585.64 L1523.29,585.79 L1524.54,585.94 L1525.79,586.09 L1527.03,586.24 L1528.28,586.38 L1529.52,586.53 L1530.77,586.68 L1532.02,586.83 L1533.26,586.97 L1534.51,587.12 L1535.75,587.27 L1537.00,587.41" stroke="#0000ff" stroke-width="11.4" fill="none" stroke-dasharray="9.0 8.79" stroke-dashoffset="1053.14" stroke-linejoin="round"/>
<path d="M291.00,259.84 L292.25,259.82 L293.49,259.79 L294.74,259.77 L295.98,259.74 L297.23,259.72 L298.48,259.71 L299.72,259.69 L300.97,259.68 L302.21,259.66 L303.46,259.66 L304.71,259.65 L305.95,259.64 L307.20,259.64 L308.44,259.64 L309.69,259.64 L310.94,259.64 L312.18,259.65 L313.43,259.66 L314.67,259.67 L315.92,259.68 L317.17,259.69 L318.41,259.71 L319.66,259.72 L320.90,259.74 L322.15,259.77 L323.40,259.79 L324.64,259.82 L325.89,259.84 L327.13,259.88 L328.38,259.91 L329.63,259.94 L330.87,259.98 L332.12,260.02 L333.36,260.06 L334.61,260.10 L335.86,260.15 L337.10,260.19 L338.35,260.24 L339.59,260.30 L340.84,260.35 L342.09,260.40 L343.33,260.46 L344.58,260.52 L345.82,260.58 L347.07,260.65 L348.32,260.72 L349.56,260.78 L350.81,260.85 L352.05,260.93 L353.30,261.00 L354.55,261.08 L355.79,261.16 L357.04,261.24 L358.28,261.32 L359.53,261.41 L360.78,261.49 L362.02,261.58 L363.27,261.68 L364.51,261.77 L365.76,261.87 L367.01,261.96 L368.25,262.06 L369.50,262.17 L370.74,262.27 L371.99,262.38 L373.24,262.49 L374.48,262.60 L375.73,262.71 L376.97,262.83 L378.22,262.94 L379.47,263.06 L380.71,263.19 L381.96,263.31 L383.20,263.43 L384.45,263.56 L385.70,263.69 L386.94,263.83 L388.19,263.96 L389.43,264.10 L390.68,264.24 L391.93,264.38 L393.17,264.52 L394.42,264.66 L395.66,264.81 L396.91,264.96 L398.16,265.11 L399.40,265.27 L400.65,265.42 L401.89,265.58 L403.14,265.74 L404.39,265.90 L405.63,266.07 L406.88,266.24 L408.12,266.41 L409.37,266.58 L410.62,266.75 L411.86,266.93 L413.11,267.10 L414.35,267.28 L415.60,267.47 L416.85,267.65 L418.09,267.84 L419.34,268.02 L420.58,268.22 L421.83,268.41 L423.08,268.60 L424.32,268.80 L425.57,269.00 L426.81,269.20 L428.06,269.41 L429.31,269.61 L430.55,269.82 L431.80,270.03 L433.04,270.24 L434.29,270.46 L435.54,270.68 L436.78,270.90 L438.03,271.12 L439.27,271.34 L440.52,271.57 L441.77,271.80 L443.01,272.03 L444.26,272.26 L445.50,272.49 L446.75,272.73 L448.00,272.97 L449.24,273.21 L450.49,273.45 L451.73,273.70 L452.98,273.95 L454.23,274.20 L455.47,274.45 L456.72,274.71 L457.96,274.96 L459.21,275.22 L460.46,275.48 L461.70,275.75 L462.95,276.01 L464.19,276.28 L465.44,276.55 L466.69,276.83 L467.93,277.10 L469.18,277.38 L470.42,277.66 L471.67,277.94 L472.92,278.22 L474.16,278.51 L475.41,278.80 L476.65,279.09 L477.90,279.38 L479.15,279.68 L480.39,279.98 L481.64,280.28 L482.88,280.58 L484.13,280.88 L485.38,281.19 L486.62,281.50 L487.87,281.81 L489.11,282.13 L490.36,282.44 L491.61,282.76 L492.85,283.08 L494.10,283.40 L495.34,283.73 L496.59,284.06 L497.84,284.39 L499.08,284.72 L500.33,285.05 L501.57,285.39 L502.82,285.73 L504.07,286.07 L505.31,286.42 L506.56,286.76 L507.80,287.11 L509.05,287.46 L510.30,287.81 L511.54,288.17 L512.79,288.53 L514.03,288.89 L515.28,289.25 L516.53,289.62 L517.77,289.98 L519.02,290.35 L520.26,290.72 L521.51,291.10 L522.76,291.48 L524.00,291.86 L525.25,292.24 L526.49,292.62 L527.74,293.01 L528.99,293.40 L530.23,293.79 L531.48,294.18 L532.72,294.58 L533.97,294.98 L535.22,295.38 L536.46,295.78 L537.71,296.18 L538.95,296.59 L540.20,297.00 L541.45,297.42 L542.69,297.83 L543.94,298.25 L545.18,298.67 L546.43,299.09 L547.68,299.52 L548.92,299.94 L550.17,300.37 L551.41,300.81 L552.66,301.24 L553.91,301.68 L555.15,302.12 L556.40,302.56 L557.64,303.00 L558.89,303.45 L560.14,303.90 L561.38,304.35 L562.63,304.80 L563.87,305.26 L565.12,305.72 L566.37,306.18 L567.61,306.64 L568.86,307.11 L570.10,307.58 L571.35,308.05 L572.60,308.52 L573.84,309.00 L575.09,309.47 L576.33,309.95 L577.58,310.44 L578.83,310.92 L580.07,311.41 L581.32,311.90 L582.56,312.39 L583.81,312.88 L585.06,313.38 L586.30,313.88 L587.55,314.38 L588.79,314.89 L590.04,315.39 L591.29,315.90 L592.53,316.41 L593.78,316.93 L595.02,317.44 L596.27,317.96 L597.52,318.48 L598.76,319.00 L600.01,319.53 L601.25,320.06 L602.50,320.59 L603.75,321.12 L604.99,321.65 L606.24,322.19 L607.48,322.73 L608.73,323.27 L609.98,323.82 L611.22,324.36 L612.47,324.91 L613.71,325.46 L614.96,326.02 L616.21,326.57 L617.45,327.13 L618.70,327.69 L619.94,328.26 L621.19,328.82 L622.44,329.39 L623.68,329.96 L624.93,330.53 L626.17,331.11 L627.42,331.69 L628.67,332.27 L629.91,332.85 L631.16,333.44 L632.40,334.02 L633.65,334.61 L634.90,335.20 L636.14,335.80 L637.39,336.40 L638.63,337.00 L639.88,337.60 L641.13,338.20 L642.37,338.81 L643.62,339.42 L644.86,340.03 L646.11,340.64 L647.36,341.26 L648.60,341.88 L649.85,342.50 L651.09,343.12 L652.34,343.75 L653.59,344.38 L654.83,345.01 L656.08,345.64 L657.32,346.28 L658.57,346.92 L659.82,347.56 L661.06,348.20 L662.31,348.85 L663.55,349.50 L664.80,350.15 L666.05,350.80 L667.29,351.46 L668.54,352.11 L669.78,352.77 L671.03,353.44 L672.28,354.10 L673.52,354.77 L674.77,355.44 L676.01,356.12 L677.26,356.79 L678.51,357.47 L679.75,358.15 L681.00,358.83 L682.24,359.52 L683.49,360.21 L684.74,360.90 L685.98,361.59 L687.23,362.29 L688.47,362.99 L689.72,363.69 L690.97,364.40 L692.21,365.10 L693.46,365.81 L694.70,366.52 L695.95,367.24 L697.20,367.96 L698.44,368.68 L699.69,369.40 L700.93,370.12 L702.18,370.85 L703.43,371.58 L704.67,372.32 L705.92,373.05 L707.16,373.79 L708.41,374.53 L709.66,375.28 L710.90,376.02 L712.15,376.77 L713.39,377.53 L714.64,378.28 L715.89,379.04 L717.13,379.80 L718.38,380.57 L719.62,381.33 L720.87,382.10 L722.12,382.87 L723.36,383.65 L724.61,384.43 L725.85,385.21 L727.10,385.99 L728.35,386.78 L729.59,387.57 L730.84,388.36 L732.08,389.16 L733.33,389.96 L734.58,390.76 L735.82,391.56 L737.07,392.37 L738.31,393.18 L739.56,394.00 L740.81,394.81 L742.05,395.63 L743.30,396.46 L744.54,397.28 L745.79,398.11 L747.04,398.95 L748.28,399.78 L749.53,400.62 L750.77,401.46 L752.02,402.31 L753.27,403.16 L754.51,404.01 L755.76,404.87 L757.00,405.72 L758.25,406.59 L759.50,407.45 L760.74,408.32 L761.99,409.19 L763.23,410.07 L764.48,410.95 L765.73,411.83 L766.97,412.72 L768.22,413.61 L769.46,414.50 L770.71,415.40 L771.96,416.30 L773.20,417.21 L774.45,418.12 L775.69,419.03 L776.94,419.94 L778.19,420.86 L779.43,421.79 L780.68,422.72 L781.92,423.65 L783.17,424.58 L784.42,425.52 L785.66,426.47 L786.91,427.41 L788.15,428.37 L789.40,429.32 L790.65,430.28 L791.89,431.25 L793.14,432.21 L794.38,433.19 L795.63,434.16 L796.88,435.15 L798.12,436.13 L799.37,437.12 L800.61,438.12 L801.86,439.12 L803.11,440.12 L804.35,441.13 L805.60,442.15 L806.84,443.16 L808.09,444.19 L809.34,445.22 L810.58,446.25 L811.83,447.29 L813.07,448.33 L814.32,449.38 L815.57,450.44 L816.81,451.50 L818.06,452.56 L819.30,453.63 L820.55,454.71 L821.80,455.79 L823.04,456.88 L824.29,457.97 L825.53,459.07 L826.78,460.17 L828.03,461.28 L829.27,462.40 L830.52,463.52 L831.76,464.65 L833.01,465.79 L834.26,466.93 L835.50,468.08 L836.75,469.24 L837.99,470.40 L839.24,471.57 L840.49,472.74 L841.73,473.93 L842.98,475.12 L844.22,476.31 L845.47,477.52 L846.72,478.73 L847.96,479.95 L849.21,481.18 L850.45,482.42 L851.70,483.66 L852.95,484.91 L854.19,486.18 L855.44,487.45 L856.68,488.72 L857.93,490.01 L859.18,491.31 L860.42,492.61 L861.67,493.93 L862.91,495.25 L864.16,496.59 L865.41,497.93 L866.65,499.29 L867.90,500.65 L869.14,502.03 L870.39,503.42 L871.64,504.81 L872.88,506.22 L874.13,507.65 L875.37,509.08 L876.62,510.52 L877.87,511.98 L879.11,513.45 L880.36,514.93 L881.60,516.43 L882.85,517.94 L884.10,519.47 L885.34,521.00 L886.59,522.56 L887.83,524.13 L889.08,525.71 L890.33,527.31 L891.57,528.93 L892.82,530.56 L894.06,532.21 L895.31,533.88 L896.56,535.57 L897.80,537.27 L899.05,539.00 L900.29,540.74 L901.54,542.51 L902.79,544.30 L904.03,546.10 L905.28,547.94 L906.52,549.79 L907.77,551.67 L909.02,553.57 L910.26,555.50 L911.51,557.46 L912.75,559.45 L914.00,561.46 L915.25,563.50 L916.49,565.58 L917.74,567.69 L918.98,569.83 L920.23,572.00 L921.48,574.21 L922.72,576.46 L923.97,578.75 L925.21,581.09 L926.46,583.46 L927.71,585.88 L928.95,588.35 L930.20,590.86 L931.44,593.43 L932.69,596.06 L933.94,598.74 L935.18,601.49 L936.43,604.29 L937.67,607.17 L938.92,610.12 L940.17,613.15 L941.41,616.25 L942.66,619.45 L943.90,622.74 L945.15,626.12 L946.40,629.62 L947.64,633.23 L948.89,636.96 L950.13,640.82 L951.38,644.84 L952.63,649.01 L953.87,653.35 L955.12,657.88 L956.36,662.62 L957.61,667.60 L958.86,672.83 L960.10,678.35 L961.35,684.20 L962.59,690.42 L963.84,697.06 L965.09,704.21 L966.33,711.93 L967.58,720.35 L968.82,729.61 L970.07,739.91 L971.32,751.52 L972.56,764.86 L973.81,780.55 L975.05,799.65 L976.30,824.14 L977.55,858.47 L978.79,916.84 L980.04,918.91" stroke="#000" stroke-width="7.7" fill="none" stroke-dasharray="44.7 26.46" stroke-linejoin="round"/>
<path d="M980.04,918.91 L981.28,917.75 L982.53,860.29 L983.78,826.87 L985.02,803.29 L986.27,785.10 L987.51,770.33 L988.76,757.90 L990.01,747.20 L991.25,737.82 L992.50,729.47 L993.74,721.96 L994.99,715.15 L996.24,708.91 L997.48,703.18 L998.73,697.87 L999.97,692.93 L1001.22,688.32 L1002.47,684.00 L1003.71,679.94 L1004.96,676.11 L1006.20,672.48 L1007.45,669.05 L1008.70,665.79 L1009.94,662.69 L1011.19,659.73 L1012.43,656.91 L1013.68,654.21 L1014.93,651.62 L1016.17,649.14 L1017.42,646.76 L1018.66,644.48 L1019.91,642.28 L1021.16,640.16 L1022.40,638.12 L1023.65,636.15 L1024.89,634.24 L1026.14,632.41 L1027.39,630.63 L1028.63,628.91 L1029.88,627.24 L1031.12,625.63 L1032.37,624.07 L1033.62,622.55 L1034.86,621.08 L1036.11,619.65 L1037.35,618.27 L1038.60,616.92 L1039.85,615.61 L1041.09,614.34 L1042.34,613.10 L1043.58,611.89 L1044.83,610.72 L1046.08,609.57 L1047.32,608.46 L1048.57,607.37 L1049.81,606.31 L1051.06,605.28 L1052.31,604.28 L1053.55,603.29 L1054.80,602.34 L1056.04,601.40 L1057.29,600.49 L1058.54,599.60 L1059.78,598.72 L1061.03,597.87 L1062.27,597.04 L1063.52,596.23 L1064.77,595.44 L1066.01,594.66 L1067.26,593.90 L1068.50,593.16 L1069.75,592.43 L1071.00,591.73 L1072.24,591.03 L1073.49,590.35 L1074.73,589.69 L1075.98,589.04 L1077.23,588.40 L1078.47,587.78 L1079.72,587.17 L1080.96,586.57 L1082.21,585.98 L1083.46,585.41 L1084.70,584.85 L1085.95,584.30 L1087.19,583.76 L1088.44,583.24 L1089.69,582.72 L1090.93,582.22 L1092.18,581.72 L1093.42,581.24 L1094.67,580.76 L1095.92,580.29 L1097.16,579.84 L1098.41,579.39 L1099.65,578.95 L1100.90,578.52 L1102.15,578.10 L1103.39,577.69 L1104.64,577.29 L1105.88,576.89 L1107.13,576.50 L1108.38,576.12 L1109.62,575.75 L1110.87,575.38 L1112.11,575.03 L1113.36,574.67 L1114.61,574.33 L1115.85,573.99 L1117.10,573.66 L1118.34,573.34 L1119.59,573.02 L1120.84,572.71 L1122.08,572.41 L1123.33,572.11 L1124.57,571.82 L1125.82,571.53 L1127.07,571.25 L1128.31,570.98 L1129.56,570.71 L1130.80,570.44 L1132.05,570.19 L1133.30,569.93 L1134.54,569.69 L1135.79,569.44 L1137.03,569.21 L1138.28,568.97 L1139.53,568.75 L1140.77,568.52 L1142.02,568.31 L1143.26,568.09 L1144.51,567.88 L1145.76,567.68 L1147.00,567.48 L1148.25,567.29 L1149.49,567.09 L1150.74,566.91 L1151.99,566.73 L1153.23,566.55 L1154.48,566.37 L1155.72,566.20 L1156.97,566.04 L1158.22,565.87 L1159.46,565.71 L1160.71,565.56 L1161.95,565.41 L1163.20,565.26 L1164.45,565.12 L1165.69,564.97 L1166.94,564.84 L1168.18,564.70 L1169.43,564.57 L1170.68,564.45 L1171.92,564.32 L1173.17,564.20 L1174.41,564.08 L1175.66,563.97 L1176.91,563.86 L1178.15,563.75 L1179.40,563.65 L1180.64,563.54 L1181.89,563.44 L1183.14,563.35 L1184.38,563.25 L1185.63,563.16 L1186.87,563.08 L1188.12,562.99 L1189.37,562.91 L1190.61,562.83 L1191.86,562.75 L1193.10,562.68 L1194.35,562.60 L1195.60,562.54 L1196.84,562.47 L1198.09,562.40 L1199.33,562.34 L1200.58,562.28 L1201.83,562.22 L1203.07,562.17 L1204.32,562.12 L1205.56,562.07 L1206.81,562.02 L1208.06,561.97 L1209.30,561.93 L1210.55,561.89 L1211.79,561.85 L1213.04,561.81 L1214.29,561.77 L1215.53,561.74 L1216.78,561.71 L1218.02,561.68 L1219.27,561.65 L1220.52,561.63 L1221.76,561.60 L1223.01,561.58 L1224.25,561.56 L1225.50,561.55 L1226.75,561.53 L1227.99,561.52 L1229.24,561.50 L1230.48,561.49 L1231.73,561.49 L1232.98,561.48 L1234.22,561.47 L1235.47,561.47 L1236.71,561.47 L1237.96,561.47 L1239.21,561.47 L1240.45,561.47 L1241.70,561.48 L1242.94,561.48 L1244.19,561.49 L1245.44,561.50 L1246.68,561.51 L1247.93,561.52 L1249.17,561.54 L1250.42,561.55 L1251.67,561.57 L1252.91,561.59 L1254.16,561.61 L1255.40,561.63 L1256.65,561.65 L1257.90,561.67 L1259.14,561.70 L1260.39,561.73 L1261.63,561.75 L1262.88,561.78 L1264.13,561.81 L1265.37,561.85 L1266.62,561.88 L1267.86,561.91 L1269.11,561.95 L1270.36,561.99 L1271.60,562.02 L1272.85,562.06 L1274.09,562.10 L1275.34,562.14 L1276.59,562.19 L1277.83,562.23 L1279.08,562.28 L1280.32,562.32 L1281.57,562.37 L1282.82,562.42 L1284.06,562.47 L1285.31,562.52 L1286.55,562.57 L1287.80,562.62 L1289.05,562.67 L1290.29,562.73 L1291.54,562.79 L1292.78,562.84 L1294.03,562.90 L1295.28,562.96 L1296.52,563.02 L1297.77,563.08 L1299.01,563.14 L1300.26,563.20 L1301.51,563.27 L1302.75,563.33 L1304.00,563.40 L1305.24,563.46 L1306.49,563.53 L1307.74,563.60 L1308.98,563.67 L1310.23,563.74 L1311.47,563.81 L1312.72,563.88 L1313.97,563.95 L1315.21,564.03 L1316.46,564.10 L1317.70,564.18 L1318.95,564.25 L1320.20,564.33 L1321.44,564.41 L1322.69,564.49 L1323.93,564.56 L1325.18,564.64 L1326.43,564.73 L1327.67,564.81 L1328.92,564.89 L1330.16,564.97 L1331.41,565.06 L1332.66,565.14 L1333.90,565.23 L1335.15,565.32 L1336.39,565.40 L1337.64,565.49 L1338.89,565.58 L1340.13,565.67 L1341.38,565.76 L1342.62,565.85 L1343.87,565.94 L1345.12,566.04 L1346.36,566.13 L1347.61,566.23 L1348.85,566.32 L1350.10,566.42 L1351.35,566.51 L1352.59,566.61 L1353.84,566.71 L1355.08,566.81 L1356.33,566.91 L1357.58,567.01 L1358.82,567.11 L1360.07,567.21 L1361.31,567.31 L1362.56,567.41 L1363.81,567.52 L1365.05,567.62 L1366.30,567.72 L1367.54,567.83 L1368.79,567.94 L1370.04,568.04 L1371.28,568.15 L1372.53,568.26 L1373.77,568.37 L1375.02,568.48 L1376.27,568.59 L1377.51,568.70 L1378.76,568.81 L1380.00,568.92 L1381.25,569.03 L1382.50,569.15 L1383.74,569.26 L1384.99,569.37 L1386.23,569.49 L1387.48,569.60 L1388.73,569.72 L1389.97,569.84 L1391.22,569.95 L1392.46,570.07 L1393.71,570.19 L1394.96,570.31 L1396.20,570.43 L1397.45,570.55 L1398.69,570.67 L1399.94,570.79 L1401.19,570.92 L1402.43,571.04 L1403.68,571.16 L1404.92,571.29 L1406.17,571.41 L1407.42,571.54 L1408.66,571.66 L1409.91,571.79 L1411.15,571.91 L1412.40,572.04 L1413.65,572.17 L1414.89,572.30 L1416.14,572.43 L1417.38,572.56 L1418.63,572.69 L1419.88,572.82 L1421.12,572.95 L1422.37,573.08 L1423.61,573.21 L1424.86,573.35 L1426.11,573.48 L1427.35,573.62 L1428.60,573.75 L1429.84,573.89 L1431.09,574.02 L1432.34,574.16 L1433.58,574.29 L1434.83,574.43 L1436.07,574.57 L1437.32,574.71 L1438.57,574.85 L1439.81,574.99 L1441.06,575.13 L1442.30,575.27 L1443.55,575.41 L1444.80,575.55 L1446.04,575.69 L1447.29,575.84 L1448.53,575.98 L1449.78,576.12 L1451.03,576.27 L1452.27,576.41 L1453.52,576.56 L1454.76,576.70 L1456.01,576.85 L1457.26,577.00 L1458.50,577.14 L1459.75,577.29 L1460.99,577.44 L1462.24,577.59 L1463.49,577.74 L1464.73,577.89 L1465.98,578.04 L1467.22,578.19 L1468.47,578.34 L1469.72,578.49 L1470.96,578.65 L1472.21,578.80 L1473.45,578.95 L1474.70,579.11 L1475.95,579.26 L1477.19,579.42 L1478.44,579.57 L1479.68,579.73 L1480.93,579.88 L1482.18,580.04 L1483.42,580.20 L1484.67,580.36 L1485.91,580.52 L1487.16,580.67 L1488.41,580.83 L1489.65,580.99 L1490.90,581.16 L1492.14,581.32 L1493.39,581.48 L1494.64,581.64 L1495.88,581.80 L1497.13,581.97 L1498.37,582.13 L1499.62,582.29 L1500.87,582.46 L1502.11,582.62 L1503.36,582.79 L1504.60,582.96 L1505.85,583.12 L1507.10,583.29 L1508.34,583.46 L1509.59,583.62 L1510.83,583.79 L1512.08,583.96 L1513.33,584.13 L1514.57,584.30 L1515.82,584.47 L1517.06,584.64 L1518.31,584.82 L1519.56,584.99 L1520.80,585.16 L1522.05,585.33 L1523.29,585.51 L1524.54,585.68 L1525.79,585.86 L1527.03,586.03 L1528.28,586.21 L1529.52,586.38 L1530.77,586.56 L1532.02,586.74 L1533.26,586.91 L1534.51,587.09 L1535.75,587.27 L1537.00,587.45" stroke="#000" stroke-width="7.7" fill="none" stroke-dasharray="44.7 26.46" stroke-dashoffset="1084.52" stroke-linejoin="round"/>
<circle cx="980.04" cy="918.91" r="2.6" fill="#000"/>
<path d="M291.00,256.46 L292.25,256.47 L293.49,256.49 L294.74,256.51 L295.98,256.53 L297.23,256.55 L298.48,256.57 L299.72,256.59 L300.97,256.62 L302.21,256.65 L303.46,256.67 L304.71,256.70 L305.95,256.73 L307.20,256.76 L308.44,256.79 L309.69,256.83 L310.94,256.86 L312.18,256.90 L313.43,256.94 L314.67,256.97 L315.92,257.01 L317.17,257.06 L318.41,257.10 L319.66,257.14 L320.90,257.19 L322.15,257.23 L323.40,257.28 L324.64,257.33 L325.89,257.38 L327.13,257.43 L328.38,257.49 L329.63,257.54 L330.87,257.60 L332.12,257.66 L333.36,257.71 L334.61,257.77 L335.86,257.84 L337.10,257.90 L338.35,257.96 L339.59,258.03 L340.84,258.10 L342.09,258.16 L343.33,258.23 L344.58,258.30 L345.82,258.38 L347.07,258.45 L348.32,258.53 L349.56,258.60 L350.81,258.68 L352.05,258.76 L353.30,258.84 L354.55,258.92 L355.79,259.01 L357.04,259.09 L358.28,259.18 L359.53,259.27 L360.78,259.36 L362.02,259.45 L363.27,259.54 L364.51,259.64 L365.76,259.73 L367.01,259.83 L368.25,259.93 L369.50,260.03 L370.74,260.13 L371.99,260.23 L373.24,260.34 L374.48,260.44 L375.73,260.55 L376.97,260.66 L378.22,260.77 L379.47,260.88 L380.71,261.00 L381.96,261.11 L383.20,261.23 L384.45,261.35 L385.70,261.47 L386.94,261.59 L388.19,261.71 L389.43,261.83 L390.68,261.96 L391.93,262.09 L393.17,262.22 L394.42,262.35 L395.66,262.48 L396.91,262.61 L398.16,262.75 L399.40,262.89 L400.65,263.02 L401.89,263.17 L403.14,263.31 L404.39,263.45 L405.63,263.60 L406.88,263.74 L408.12,263.89 L409.37,264.04 L410.62,264.19 L411.86,264.35 L413.11,264.50 L414.35,264.66 L415.60,264.82 L416.85,264.98 L418.09,265.14 L419.34,265.30 L420.58,265.47 L421.83,265.63 L423.08,265.80 L424.32,265.97 L425.57,266.14 L426.81,266.32 L428.06,266.49 L429.31,266.67 L430.55,266.85 L431.80,267.03 L433.04,267.21 L434.29,267.39 L435.54,267.58 L436.78,267.77 L438.03,267.96 L439.27,268.15 L440.52,268.34 L441.77,268.53 L443.01,268.73 L444.26,268.93 L445.50,269.13 L446.75,269.33 L448.00,269.53 L449.24,269.74 L450.49,269.94 L451.73,270.15 L452.98,270.36 L454.23,270.58 L455.47,270.79 L456.72,271.01 L457.96,271.22 L459.21,271.44 L460.46,271.66 L461.70,271.89 L462.95,272.11 L464.19,272.34 L465.44,272.57 L466.69,272.80 L467.93,273.03 L469.18,273.27 L470.42,273.50 L471.67,273.74 L472.92,273.98 L474.16,274.23 L475.41,274.47 L476.65,274.72 L477.90,274.96 L479.15,275.21 L480.39,275.46 L481.64,275.72 L482.88,275.97 L484.13,276.23 L485.38,276.49 L486.62,276.75 L487.87,277.02 L489.11,277.28 L490.36,277.55 L491.61,277.82 L492.85,278.09 L494.10,278.36 L495.34,278.64 L496.59,278.92 L497.84,279.20 L499.08,279.48 L500.33,279.76 L501.57,280.05 L502.82,280.33 L504.07,280.62 L505.31,280.92 L506.56,281.21 L507.80,281.50 L509.05,281.80 L510.30,282.10 L511.54,282.40 L512.79,282.71 L514.03,283.01 L515.28,283.32 L516.53,283.63 L517.77,283.95 L519.02,284.26 L520.26,284.58 L521.51,284.90 L522.76,285.22 L524.00,285.54 L525.25,285.87 L526.49,286.19 L527.74,286.52 L528.99,286.85 L530.23,287.19 L531.48,287.52 L532.72,287.86 L533.97,288.20 L535.22,288.55 L536.46,288.89 L537.71,289.24 L538.95,289.59 L540.20,289.94 L541.45,290.29 L542.69,290.65 L543.94,291.01 L545.18,291.37 L546.43,291.73 L547.68,292.09 L548.92,292.46 L550.17,292.83 L551.41,293.20 L552.66,293.58 L553.91,293.95 L555.15,294.33 L556.40,294.71 L557.64,295.09 L558.89,295.48 L560.14,295.87 L561.38,296.25 L562.63,296.65 L563.87,297.04 L565.12,297.44 L566.37,297.83 L567.61,298.23 L568.86,298.64 L570.10,299.04 L571.35,299.45 L572.60,299.86 L573.84,300.27 L575.09,300.68 L576.33,301.10 L577.58,301.52 L578.83,301.94 L580.07,302.36 L581.32,302.78 L582.56,303.21 L583.81,303.64 L585.06,304.07 L586.30,304.50 L587.55,304.94 L588.79,305.37 L590.04,305.81 L591.29,306.26 L592.53,306.70 L593.78,307.15 L595.02,307.59 L596.27,308.05 L597.52,308.50 L598.76,308.95 L600.01,309.41 L601.25,309.87 L602.50,310.33 L603.75,310.79 L604.99,311.26 L606.24,311.73 L607.48,312.20 L608.73,312.67 L609.98,313.15 L611.22,313.62 L612.47,314.10 L613.71,314.58 L614.96,315.07 L616.21,315.55 L617.45,316.04 L618.70,316.53 L619.94,317.02 L621.19,317.52 L622.44,318.01 L623.68,318.51 L624.93,319.01 L626.17,319.52 L627.42,320.02 L628.67,320.53 L629.91,321.04 L631.16,321.55 L632.40,322.06 L633.65,322.58 L634.90,323.10 L636.14,323.62 L637.39,324.14 L638.63,324.67 L639.88,325.19 L641.13,325.72 L642.37,326.25 L643.62,326.79 L644.86,327.32 L646.11,327.86 L647.36,328.40 L648.60,328.95 L649.85,329.49 L651.09,330.04 L652.34,330.59 L653.59,331.14 L654.83,331.69 L656.08,332.25 L657.32,332.81 L658.57,333.37 L659.82,333.93 L661.06,334.49 L662.31,335.06 L663.55,335.63 L664.80,336.20 L666.05,336.78 L667.29,337.35 L668.54,337.93 L669.78,338.51 L671.03,339.09 L672.28,339.68 L673.52,340.27 L674.77,340.85 L676.01,341.45 L677.26,342.04 L678.51,342.64 L679.75,343.24 L681.00,343.84 L682.24,344.44 L683.49,345.04 L684.74,345.65 L685.98,346.26 L687.23,346.88 L688.47,347.49 L689.72,348.11 L690.97,348.73 L692.21,349.35 L693.46,349.97 L694.70,350.60 L695.95,351.23 L697.20,351.86 L698.44,352.49 L699.69,353.13 L700.93,353.76 L702.18,354.40 L703.43,355.05 L704.67,355.69 L705.92,356.34 L707.16,356.99 L708.41,357.64 L709.66,358.30 L710.90,358.95 L712.15,359.61 L713.39,360.27 L714.64,360.94 L715.89,361.61 L717.13,362.27 L718.38,362.95 L719.62,363.62 L720.87,364.30 L722.12,364.97 L723.36,365.66 L724.61,366.34 L725.85,367.03 L727.10,367.72 L728.35,368.41 L729.59,369.10 L730.84,369.80 L732.08,370.50 L733.33,371.20 L734.58,371.90 L735.82,372.61 L737.07,373.32 L738.31,374.03 L739.56,374.74 L740.81,375.46 L742.05,376.18 L743.30,376.90 L744.54,377.62 L745.79,378.35 L747.04,379.08 L748.28,379.81 L749.53,380.55 L750.77,381.29 L752.02,382.03 L753.27,382.77 L754.51,383.52 L755.76,384.27 L757.00,385.02 L758.25,385.77 L759.50,386.53 L760.74,387.29 L761.99,388.05 L763.23,388.82 L764.48,389.59 L765.73,390.36 L766.97,391.13 L768.22,391.91 L769.46,392.69 L770.71,393.47 L771.96,394.26 L773.20,395.04 L774.45,395.84 L775.69,396.63 L776.94,397.43 L778.19,398.23 L779.43,399.03 L780.68,399.84 L781.92,400.65 L783.17,401.46 L784.42,402.28 L785.66,403.09 L786.91,403.92 L788.15,404.74 L789.40,405.57 L790.65,406.40 L791.89,407.24 L793.14,408.07 L794.38,408.92 L795.63,409.76 L796.88,410.61 L798.12,411.46 L799.37,412.31 L800.61,413.17 L801.86,414.03 L803.11,414.90 L804.35,415.77 L805.60,416.64 L806.84,417.51 L808.09,418.39 L809.34,419.28 L810.58,420.16 L811.83,421.05 L813.07,421.94 L814.32,422.84 L815.57,423.74 L816.81,424.65 L818.06,425.56 L819.30,426.47 L820.55,427.39 L821.80,428.31 L823.04,429.23 L824.29,430.16 L825.53,431.09 L826.78,432.03 L828.03,432.97 L829.27,433.91 L830.52,434.86 L831.76,435.81 L833.01,436.77 L834.26,437.73 L835.50,438.70 L836.75,439.67 L837.99,440.64 L839.24,441.62 L840.49,442.61 L841.73,443.60 L842.98,444.59 L844.22,445.59 L845.47,446.59 L846.72,447.60 L847.96,448.61 L849.21,449.63 L850.45,450.65 L851.70,451.68 L852.95,452.71 L854.19,453.75 L855.44,454.79 L856.68,455.84 L857.93,456.90 L859.18,457.96 L860.42,459.02 L861.67,460.09 L862.91,461.17 L864.16,462.25 L865.41,463.34 L866.65,464.43 L867.90,465.53 L869.14,466.64 L870.39,467.75 L871.64,468.87 L872.88,469.99 L874.13,471.12 L875.37,472.26 L876.62,473.41 L877.87,474.56 L879.11,475.72 L880.36,476.88 L881.60,478.06 L882.85,479.24 L884.10,480.42 L885.34,481.62 L886.59,482.82 L887.83,484.03 L889.08,485.25 L890.33,486.47 L891.57,487.71 L892.82,488.95 L894.06,490.20 L895.31,491.46 L896.56,492.73 L897.80,494.00 L899.05,495.29 L900.29,496.58 L901.54,497.89 L902.79,499.20 L904.03,500.53 L905.28,501.86 L906.52,503.21 L907.77,504.56 L909.02,505.93 L910.26,507.30 L911.51,508.69 L912.75,510.09 L914.00,511.50 L915.25,512.92 L916.49,514.36 L917.74,515.80 L918.98,517.26 L920.23,518.74 L921.48,520.22 L922.72,521.72 L923.97,523.24 L925.21,524.76 L926.46,526.31 L927.71,527.86 L928.95,529.44 L930.20,531.03 L931.44,532.63 L932.69,534.25 L933.94,535.89 L935.18,537.55 L936.43,539.23 L937.67,540.92 L938.92,542.64 L940.17,544.37 L941.41,546.12 L942.66,547.90 L943.90,549.70 L945.15,551.52 L946.40,553.36 L947.64,555.23 L948.89,557.12 L950.13,559.04 L951.38,560.98 L952.63,562.96 L953.87,564.96 L955.12,566.99 L956.36,569.05 L957.61,571.15 L958.86,573.27 L960.10,575.44 L961.35,577.63 L962.59,579.87 L963.84,582.15 L965.09,584.46 L966.33,586.82 L967.58,589.23 L968.82,591.68 L970.07,594.18 L971.32,596.73 L972.56,599.34 L973.81,602.01 L975.05,604.73 L976.30,607.52 L977.55,610.38 L978.79,613.31 L980.04,616.31 L981.28,619.40 L982.53,622.57 L983.78,625.83 L985.02,629.20 L986.27,632.66 L987.51,636.24 L988.76,639.94 L990.01,643.78 L991.25,647.76 L992.50,651.89 L993.74,656.19 L994.99,660.68 L996.24,665.37 L997.48,670.29 L998.73,675.47 L999.97,680.92 L1001.22,686.70 L1002.47,692.84 L1003.71,699.39 L1004.96,706.42 L1006.20,714.02 L1007.45,722.29 L1008.70,731.36 L1009.94,741.43 L1011.19,752.75 L1012.43,765.69 L1013.68,780.84 L1014.93,799.14 L1016.17,822.31 L1017.42,854.07 L1018.66,905.16 L1020.16,918.91" stroke="#ff00ff" stroke-width="7.7" fill="none" stroke-dasharray="35.6 13.1 9.1 13.36" stroke-linejoin="round"/>
<path d="M1020.16,918.91 L1022.40,872.64 L1023.65,836.18 L1024.89,811.12 L1026.14,792.06 L1027.39,776.70 L1028.63,763.86 L1029.88,752.85 L1031.12,743.23 L1032.37,734.69 L1033.62,727.02 L1034.86,720.08 L1036.11,713.73 L1037.35,707.90 L1038.60,702.51 L1039.85,697.50 L1041.09,692.82 L1042.34,688.45 L1043.58,684.33 L1044.83,680.46 L1046.08,676.79 L1047.32,673.32 L1048.57,670.03 L1049.81,666.89 L1051.06,663.91 L1052.31,661.06 L1053.55,658.33 L1054.80,655.72 L1056.04,653.22 L1057.29,650.82 L1058.54,648.52 L1059.78,646.30 L1061.03,644.17 L1062.27,642.11 L1063.52,640.13 L1064.77,638.21 L1066.01,636.36 L1067.26,634.57 L1068.50,632.84 L1069.75,631.17 L1071.00,629.55 L1072.24,627.98 L1073.49,626.45 L1074.73,624.97 L1075.98,623.54 L1077.23,622.15 L1078.47,620.79 L1079.72,619.48 L1080.96,618.20 L1082.21,616.95 L1083.46,615.74 L1084.70,614.56 L1085.95,613.42 L1087.19,612.30 L1088.44,611.21 L1089.69,610.15 L1090.93,609.12 L1092.18,608.11 L1093.42,607.12 L1094.67,606.16 L1095.92,605.23 L1097.16,604.31 L1098.41,603.42 L1099.65,602.55 L1100.90,601.70 L1102.15,600.87 L1103.39,600.06 L1104.64,599.26 L1105.88,598.49 L1107.13,597.73 L1108.38,596.99 L1109.62,596.27 L1110.87,595.56 L1112.11,594.87 L1113.36,594.19 L1114.61,593.53 L1115.85,592.88 L1117.10,592.24 L1118.34,591.62 L1119.59,591.01 L1120.84,590.42 L1122.08,589.84 L1123.33,589.27 L1124.57,588.71 L1125.82,588.17 L1127.07,587.63 L1128.31,587.11 L1129.56,586.60 L1130.80,586.09 L1132.05,585.60 L1133.30,585.12 L1134.54,584.65 L1135.79,584.19 L1137.03,583.74 L1138.28,583.29 L1139.53,582.86 L1140.77,582.43 L1142.02,582.02 L1143.26,581.61 L1144.51,581.21 L1145.76,580.82 L1147.00,580.44 L1148.25,580.06 L1149.49,579.69 L1150.74,579.33 L1151.99,578.98 L1153.23,578.63 L1154.48,578.29 L1155.72,577.96 L1156.97,577.64 L1158.22,577.32 L1159.46,577.01 L1160.71,576.70 L1161.95,576.40 L1163.20,576.11 L1164.45,575.82 L1165.69,575.54 L1166.94,575.27 L1168.18,575.00 L1169.43,574.74 L1170.68,574.48 L1171.92,574.23 L1173.17,573.98 L1174.41,573.74 L1175.66,573.50 L1176.91,573.27 L1178.15,573.04 L1179.40,572.82 L1180.64,572.60 L1181.89,572.39 L1183.14,572.18 L1184.38,571.98 L1185.63,571.78 L1186.87,571.58 L1188.12,571.39 L1189.37,571.21 L1190.61,571.03 L1191.86,570.85 L1193.10,570.68 L1194.35,570.51 L1195.60,570.34 L1196.84,570.18 L1198.09,570.02 L1199.33,569.87 L1200.58,569.72 L1201.83,569.57 L1203.07,569.43 L1204.32,569.29 L1205.56,569.15 L1206.81,569.02 L1208.06,568.89 L1209.30,568.77 L1210.55,568.64 L1211.79,568.52 L1213.04,568.41 L1214.29,568.30 L1215.53,568.19 L1216.78,568.08 L1218.02,567.97 L1219.27,567.87 L1220.52,567.77 L1221.76,567.68 L1223.01,567.59 L1224.25,567.50 L1225.50,567.41 L1226.75,567.33 L1227.99,567.24 L1229.24,567.16 L1230.48,567.09 L1231.73,567.01 L1232.98,566.94 L1234.22,566.87 L1235.47,566.81 L1236.71,566.74 L1237.96,566.68 L1239.21,566.62 L1240.45,566.56 L1241.70,566.51 L1242.94,566.45 L1244.19,566.40 L1245.44,566.35 L1246.68,566.31 L1247.93,566.26 L1249.17,566.22 L1250.42,566.18 L1251.67,566.14 L1252.91,566.10 L1254.16,566.07 L1255.40,566.04 L1256.65,566.01 L1257.90,565.98 L1259.14,565.95 L1260.39,565.93 L1261.63,565.90 L1262.88,565.88 L1264.13,565.86 L1265.37,565.84 L1266.62,565.83 L1267.86,565.81 L1269.11,565.80 L1270.36,565.79 L1271.60,565.78 L1272.85,565.77 L1274.09,565.76 L1275.34,565.75 L1276.59,565.75 L1277.83,565.75 L1279.08,565.75 L1280.32,565.75 L1281.57,565.75 L1282.82,565.75 L1284.06,565.76 L1285.31,565.76 L1286.55,565.77 L1287.80,565.78 L1289.05,565.79 L1290.29,565.80 L1291.54,565.81 L1292.78,565.83 L1294.03,565.84 L1295.28,565.86 L1296.52,565.87 L1297.77,565.89 L1299.01,565.91 L1300.26,565.93 L1301.51,565.95 L1302.75,565.98 L1304.00,566.00 L1305.24,566.03 L1306.49,566.05 L1307.74,566.08 L1308.98,566.11 L1310.23,566.14 L1311.47,566.17 L1312.72,566.20 L1313.97,566.24 L1315.21,566.27 L1316.46,566.31 L1317.70,566.35 L1318.95,566.38 L1320.20,566.42 L1321.44,566.46 L1322.69,566.50 L1323.93,566.55 L1325.18,566.59 L1326.43,566.63 L1327.67,566.68 L1328.92,566.72 L1330.16,566.77 L1331.41,566.82 L1332.66,566.87 L1333.90,566.92 L1335.15,566.97 L1336.39,567.02 L1337.64,567.08 L1338.89,567.13 L1340.13,567.19 L1341.38,567.24 L1342.62,567.30 L1343.87,567.36 L1345.12,567.42 L1346.36,567.48 L1347.61,567.54 L1348.85,567.60 L1350.10,567.66 L1351.35,567.73 L1352.59,567.79 L1353.84,567.86 L1355.08,567.92 L1356.33,567.99 L1357.58,568.06 L1358.82,568.13 L1360.07,568.20 L1361.31,568.27 L1362.56,568.34 L1363.81,568.42 L1365.05,568.49 L1366.30,568.57 L1367.54,568.64 L1368.79,568.72 L1370.04,568.80 L1371.28,568.88 L1372.53,568.96 L1373.77,569.04 L1375.02,569.12 L1376.27,569.20 L1377.51,569.28 L1378.76,569.37 L1380.00,569.45 L1381.25,569.54 L1382.50,569.62 L1383.74,569.71 L1384.99,569.80 L1386.23,569.89 L1387.48,569.98 L1388.73,570.07 L1389.97,570.16 L1391.22,570.26 L1392.46,570.35 L1393.71,570.45 L1394.96,570.54 L1396.20,570.64 L1397.45,570.74 L1398.69,570.83 L1399.94,570.93 L1401.19,571.03 L1402.43,571.13 L1403.68,571.24 L1404.92,571.34 L1406.17,571.44 L1407.42,571.55 L1408.66,571.65 L1409.91,571.76 L1411.15,571.87 L1412.40,571.97 L1413.65,572.08 L1414.89,572.19 L1416.14,572.30 L1417.38,572.42 L1418.63,572.53 L1419.88,572.64 L1421.12,572.76 L1422.37,572.87 L1423.61,572.99 L1424.86,573.10 L1426.11,573.22 L1427.35,573.34 L1428.60,573.46 L1429.84,573.58 L1431.09,573.70 L1432.34,573.82 L1433.58,573.95 L1434.83,574.07 L1436.07,574.20 L1437.32,574.32 L1438.57,574.45 L1439.81,574.58 L1441.06,574.70 L1442.30,574.83 L1443.55,574.96 L1444.80,575.10 L1446.04,575.23 L1447.29,575.36 L1448.53,575.49 L1449.78,575.63 L1451.03,575.77 L1452.27,575.90 L1453.52,576.04 L1454.76,576.18 L1456.01,576.32 L1457.26,576.46 L1458.50,576.60 L1459.75,576.74 L1460.99,576.88 L1462.24,577.03 L1463.49,577.17 L1464.73,577.32 L1465.98,577.47 L1467.22,577.61 L1468.47,577.76 L1469.72,577.91 L1470.96,578.06 L1472.21,578.22 L1473.45,578.37 L1474.70,578.52 L1475.95,578.68 L1477.19,578.83 L1478.44,578.99 L1479.68,579.14 L1480.93,579.30 L1482.18,579.46 L1483.42,579.62 L1484.67,579.78 L1485.91,579.94 L1487.16,580.11 L1488.41,580.27 L1489.65,580.44 L1490.90,580.60 L1492.14,580.77 L1493.39,580.94 L1494.64,581.11 L1495.88,581.28 L1497.13,581.45 L1498.37,581.62 L1499.62,581.79 L1500.87,581.97 L1502.11,582.14 L1503.36,582.32 L1504.60,582.49 L1505.85,582.67 L1507.10,582.85 L1508.34,583.03 L1509.59,583.21 L1510.83,583.39 L1512.08,583.58 L1513.33,583.76 L1514.57,583.95 L1515.82,584.13 L1517.06,584.32 L1518.31,584.51 L1519.56,584.70 L1520.80,584.89 L1522.05,585.08 L1523.29,585.27 L1524.54,585.46 L1525.79,585.66 L1527.03,585.85 L1528.28,586.05 L1529.52,586.25 L1530.77,586.45 L1532.02,586.65 L1533.26,586.85 L1534.51,587.05 L1535.75,587.25 L1537.00,587.46" stroke="#ff00ff" stroke-width="7.7" fill="none" stroke-dasharray="35.6 13.1 9.1 13.36" stroke-dashoffset="1141.95" stroke-linejoin="round"/>
<circle cx="1020.16" cy="918.91" r="3.85" fill="#ff00ff"/>
<rect x="339.8" y="632.6" width="462.49999999999994" height="333.0" fill="#fff" stroke="#262626" stroke-width="3.7"/>
<path d="M361.8,681.3H465.9" stroke="#ff0000" stroke-width="4.2" stroke-dasharray="4.9 12.89"/>
<circle cx="413.7" cy="681.3" r="7.35" fill="#ff0000"/>
<path d="M361.8,759.8H465.9" stroke="#0000ff" stroke-width="11.4" stroke-dasharray="9.0 8.79"/>
<path d="M361.8,838.6H465.9" stroke="#000" stroke-width="7.7" stroke-dasharray="44.7 26.46"/>
<path d="M361.8,917.15H465.9" stroke="#ff00ff" stroke-width="7.7" stroke-dasharray="35.6 13.1 9.1 13.36"/>
<g font-family="'Liberation Serif', 'Times New Roman', serif" font-size="63" fill="#000">
<text id="lg1" transform="translate(481.6,704.5) scale(1.0,1)">Inst.Type-1</text>
<text id="lg2" transform="translate(481.6,783.1) scale(1.0,1)">Inst.Type-2</text>
<text id="lg3" transform="translate(481.6,861.8) scale(1.0,1)">Inst.Type-3</text>
<text id="lg4" transform="translate(481.6,940.4) scale(1.0,1)">Inst.Type-4</text>
</g>
<g font-family="'Liberation Sans', Arial, Helvetica, sans-serif" font-size="69" fill="#262626">
<text class="yt" transform="translate(263.3,78.1) scale(1,1.022)" text-anchor="end"><tspan font-size="76" dy="3.4">-</tspan><tspan dy="-3.4">10</tspan></text>
<text class="yt" transform="translate(263.3,174.3) scale(1,1.022)" text-anchor="end"><tspan font-size="76" dy="3.4">-</tspan><tspan dy="-3.4">20</tspan></text>
<text class="yt" transform="translate(263.3,270.5) scale(1,1.022)" text-anchor="end"><tspan font-size="76" dy="3.4">-</tspan><tspan dy="-3.4">30</tspan></text>
<text class="yt" transform="translate(263.3,366.7) scale(1,1.022)" text-anchor="end"><tspan font-size="76" dy="3.4">-</tspan><tspan dy="-3.4">40</tspan></text>
<text class="yt" transform="translate(263.3,462.9) scale(1,1.022)" text-anchor="end"><tspan font-size="76" dy="3.4">-</tspan><tspan dy="-3.4">50</tspan></text>
<text class="yt" transform="translate(263.3,559.0) scale(1,1.022)" text-anchor="end"><tspan font-size="76" dy="3.4">-</tspan><tspan dy="-3.4">60</tspan></text>
<text class="yt" transform="translate(263.3,655.2) scale(1,1.022)" text-anchor="end"><tspan font-size="76" dy="3.4">-</tspan><tspan dy="-3.4">70</tspan></text>
<text class="yt" transform="translate(263.3,751.4) scale(1,1.022)" text-anchor="end"><tspan font-size="76" dy="3.4">-</tspan><tspan dy="-3.4">80</tspan></text>
<text class="yt" transform="translate(263.3,847.6) scale(1,1.022)" text-anchor="end"><tspan font-size="76" dy="3.4">-</tspan><tspan dy="-3.4">90</tspan></text>
<text class="yt" transform="translate(263.3,943.8) scale(1,1.022)" text-anchor="end"><tspan font-size="76" dy="3.4">-</tspan><tspan dy="-3.4">100</tspan></text>
<text class="yt" transform="translate(257.2,1040.0) scale(1,1.022)" text-anchor="end"><tspan font-size="76" dy="3.4">-</tspan><tspan dy="-3.4">110</tspan></text>
<text class="xt" transform="translate(289.7,1110) scale(1,1.022)" text-anchor="middle">0</text>
<text class="xt" transform="translate(414.3,1110) scale(1,1.022)" text-anchor="middle">10</text>
<text class="xt" transform="translate(538.9,1110) scale(1,1.022)" text-anchor="middle">20</text>
<text class="xt" transform="translate(663.5,1110) scale(1,1.022)" text-anchor="middle">30</text>
<text class="xt" transform="translate(788.1,1110) scale(1,1.022)" text-anchor="middle">40</text>
<text class="xt" transform="translate(912.7,1110) scale(1,1.022)" text-anchor="middle">50</text>
<text class="xt" transform="translate(1037.3,1110) scale(1,1.022)" text-anchor="middle">60</text>
<text class="xt" transform="translate(1161.9,1110) scale(1,1.022)" text-anchor="middle">70</text>
<text class="xt" transform="translate(1286.5,1110) scale(1,1.022)" text-anchor="middle">80</text>
<text class="xt" transform="translate(1411.1,1110) scale(1,1.022)" text-anchor="middle">90</text>
<text class="xt" transform="translate(1535.7,1110) scale(1,1.022)" text-anchor="middle">100</text>
</g>
<g font-family="'Liberation Serif', 'Times New Roman', serif" font-size="76.8" fill="#262626">
<text id="xl" transform="translate(913.3,1205.2) scale(1.011,1)" text-anchor="middle">Longitudinal misalignment(cm)</text>
<text id="yl" transform="translate(84,534.6) rotate(-90) scale(1.013,1)" text-anchor="middle">Signal power(dBm)</text>
</g>
</svg>
</body></html>
